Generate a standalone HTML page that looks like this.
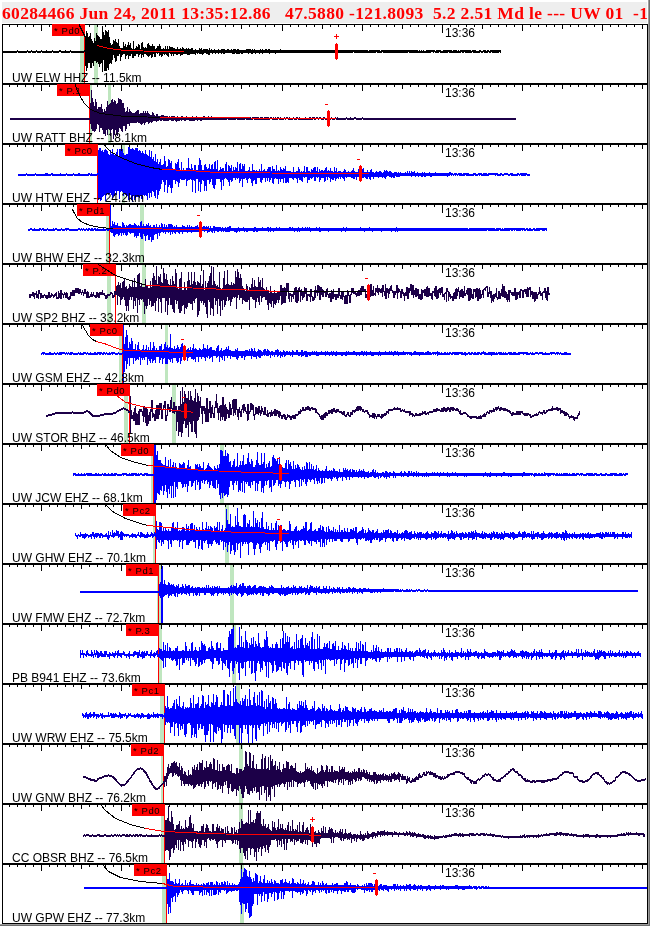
<!DOCTYPE html><html><head><meta charset="utf-8"><style>html,body{margin:0;padding:0;background:#fff;width:650px;height:926px;overflow:hidden}svg{display:block}.hd{font-family:"Liberation Serif","Times New Roman",serif;font-weight:bold;font-size:17.5px;fill:#ff0000;white-space:pre}.t{font-family:"Liberation Sans",Arial,sans-serif;font-size:12px;fill:#000}.l{font-family:"Liberation Sans",Arial,sans-serif;font-size:9.5px;letter-spacing:0.6px;fill:#000}.s{font-family:"Liberation Sans",Arial,sans-serif;font-size:9px;fill:#ff0000}</style></head><body>
<svg width="650" height="926" viewBox="0 0 650 926">
<rect x="648" y="0" width="1" height="926" fill="#9c9c9c"/><rect x="649" y="0" width="1" height="926" fill="#6e6e6e"/>
<rect x="0" y="924" width="649" height="1" fill="#9c9c9c"/><rect x="0" y="925" width="650" height="1" fill="#6e6e6e"/>
<rect x="2" y="2" width="645" height="21" fill="#eeeeee"/>
<text class="hd" x="2" y="18.6" textLength="646" lengthAdjust="spacing" xml:space="preserve">60284466 Jun 24, 2011 13:35:12.86   47.5880 -121.8093  5.2 2.51 Md le --- UW 01  -1</text>
<g><rect x="80" y="25" width="4" height="58" fill="#bfe6bf"/><rect x="94" y="25" width="4" height="58" fill="#bfe6bf"/><rect x="84" y="25" width="1" height="58" fill="#ff0000"/><path d="M3.5 51v2M4.5 51v2M5.5 51v2M6.5 51v2M7.5 51v2M8.5 51v2M9.5 51v2M10.5 51v2M11.5 51v2M12.5 51v2M13.5 51v2M14.5 51v2M15.5 51v2M16.5 51v2M17.5 50v2M18.5 51v2M19.5 51v2M20.5 51v2M21.5 51v2M22.5 51v2M23.5 51v2M24.5 51v2M25.5 51v2M26.5 51v2M27.5 50v2M28.5 51v2M29.5 51v2M30.5 51v2M31.5 50v2M32.5 51v2M33.5 51v2M34.5 51v2M35.5 51v2M36.5 50v2M37.5 51v2M38.5 51v2M39.5 51v2M40.5 51v2M41.5 50v2M42.5 51v2M43.5 51v2M44.5 51v2M45.5 51v2M46.5 50v3M47.5 51v2M48.5 51v2M49.5 51v2M50.5 51v2M51.5 51v2M52.5 50v2M53.5 51v2M54.5 51v2M55.5 51v2M56.5 51v2M57.5 51v2M58.5 51v2M59.5 50v2M60.5 50v2M61.5 51v2M62.5 51v2M63.5 51v2M64.5 51v2M65.5 50v3M66.5 51v2M67.5 51v2M68.5 51v2M69.5 51v2M70.5 50v2M71.5 51v2M72.5 51v2M73.5 51v2M74.5 51v2M75.5 51v2M76.5 51v2M77.5 51v2M78.5 51v2M79.5 51v2M80.5 51v2M81.5 51v2M82.5 51v2M83.5 51v2M84.5 50v2M85.5 37v29M86.5 31v40M87.5 33v35M88.5 37v26M89.5 36v27M90.5 33v35M91.5 39v29M92.5 41v22M93.5 43v23M94.5 38v23M95.5 41v20M96.5 33v30M97.5 35v27M98.5 36v28M99.5 37v30M100.5 39v25M101.5 39v24M102.5 26v46M103.5 32v28M104.5 35v36M105.5 30v41M106.5 31v40M107.5 32v36M108.5 30v40M109.5 37v27M110.5 43v20M111.5 45v19M112.5 44v16M113.5 40v15M114.5 41v17M115.5 39v23M116.5 42v19M117.5 43v13M118.5 39v17M119.5 46v8M120.5 48v13M121.5 48v9M122.5 48v7M123.5 42v12M124.5 46v8M125.5 44v15M126.5 47v9M127.5 45v10M128.5 42v17M129.5 45v11M130.5 43v13M131.5 48v6M132.5 49v9M133.5 41v17M134.5 49v7M135.5 48v8M136.5 46v8M137.5 47v7M138.5 44v13M139.5 45v10M140.5 49v5M141.5 43v15M142.5 42v13M143.5 47v10M144.5 48v6M145.5 47v7M146.5 48v7M147.5 44v12M148.5 43v14M149.5 45v11M150.5 46v9M151.5 46v12M152.5 44v13M153.5 46v8M154.5 46v11M155.5 49v8M156.5 48v5M157.5 46v8M158.5 46v7M159.5 44v12M160.5 46v9M161.5 49v8M162.5 49v7M163.5 48v6M164.5 49v6M165.5 46v8M166.5 49v6M167.5 46v10M168.5 49v8M169.5 46v7M170.5 47v7M171.5 47v9M172.5 47v7M173.5 48v8M174.5 48v6M175.5 49v5M176.5 49v6M177.5 47v8M178.5 49v5M179.5 49v5M180.5 48v8M181.5 49v6M182.5 47v8M183.5 48v6M184.5 49v5M185.5 49v5M186.5 48v6M187.5 49v6M188.5 48v7M189.5 49v6M190.5 49v5M191.5 48v6M192.5 48v6M193.5 50v4M194.5 50v4M195.5 49v6M196.5 50v3M197.5 50v4M198.5 50v3M199.5 48v6M200.5 49v5M201.5 48v6M202.5 50v5M203.5 49v5M204.5 49v4M205.5 49v4M206.5 49v5M207.5 49v5M208.5 50v5M209.5 48v7M210.5 50v3M211.5 49v4M212.5 50v4M213.5 50v3M214.5 49v4M215.5 50v4M216.5 50v3M217.5 50v3M218.5 49v5M219.5 50v3M220.5 50v3M221.5 49v5M222.5 49v4M223.5 49v5M224.5 49v5M225.5 50v3M226.5 50v3M227.5 49v4M228.5 49v4M229.5 50v3M230.5 50v3M231.5 49v4M232.5 50v4M233.5 49v5M234.5 49v5M235.5 49v4M236.5 50v4M237.5 49v5M238.5 49v5M239.5 50v4M240.5 50v3M241.5 50v4M242.5 50v4M243.5 50v3M244.5 50v3M245.5 50v3M246.5 49v4M247.5 49v4M248.5 49v5M249.5 49v4M250.5 49v4M251.5 50v4M252.5 49v5M253.5 50v3M254.5 49v4M255.5 50v4M256.5 50v3M257.5 50v3M258.5 50v3M259.5 50v4M260.5 49v4M261.5 50v3M262.5 49v5M263.5 50v3M264.5 50v3M265.5 49v4M266.5 49v4M267.5 50v3M268.5 49v4M269.5 49v5M270.5 50v3M271.5 50v3M272.5 50v3M273.5 50v3M274.5 50v3M275.5 50v4M276.5 50v3M277.5 50v3M278.5 50v3M279.5 50v3M280.5 49v4M281.5 50v3M282.5 50v3M283.5 50v3M284.5 50v3M285.5 50v3M286.5 50v3M287.5 50v3M288.5 50v3M289.5 50v3M290.5 50v3M291.5 50v3M292.5 50v3M293.5 50v3M294.5 50v3M295.5 50v3M296.5 50v3M297.5 50v3M298.5 50v3M299.5 50v3M300.5 50v3M301.5 50v3M302.5 50v3M303.5 50v3M304.5 50v3M305.5 50v3M306.5 50v3M307.5 50v3M308.5 50v3M309.5 50v3M310.5 50v3M311.5 50v3M312.5 50v3M313.5 50v3M314.5 50v3M315.5 50v3M316.5 50v3M317.5 50v3M318.5 50v3M319.5 50v3M320.5 50v3M321.5 50v3M322.5 50v3M323.5 50v3M324.5 50v3M325.5 50v3M326.5 50v3M327.5 50v3M328.5 50v3M329.5 50v3M330.5 50v3M331.5 50v3M332.5 50v3M333.5 50v3M334.5 50v3M335.5 50v3M336.5 50v3M337.5 50v3M338.5 50v3M339.5 50v3M340.5 50v3M341.5 50v3M342.5 50v3M343.5 50v3M344.5 50v3M345.5 50v3M346.5 50v3M347.5 50v3M348.5 50v3M349.5 50v3M350.5 50v3M351.5 50v3M352.5 50v3M353.5 50v2M354.5 50v3M355.5 50v3M356.5 50v3M357.5 50v3M358.5 50v3M359.5 50v3M360.5 50v3M361.5 50v3M362.5 50v3M363.5 50v3M364.5 50v3M365.5 50v3M366.5 50v3M367.5 50v3M368.5 51v2M369.5 50v3M370.5 50v3M371.5 50v3M372.5 50v3M373.5 50v3M374.5 50v3M375.5 50v3M376.5 50v2M377.5 50v3M378.5 50v3M379.5 50v3M380.5 51v2M381.5 50v3M382.5 50v2M383.5 50v3M384.5 50v3M385.5 50v3M386.5 50v3M387.5 50v3M388.5 50v3M389.5 50v3M390.5 50v3M391.5 50v3M392.5 50v3M393.5 50v3M394.5 50v3M395.5 50v3M396.5 50v3M397.5 50v3M398.5 50v3M399.5 50v3M400.5 50v3M401.5 50v3M402.5 50v3M403.5 50v3M404.5 50v3M405.5 50v3M406.5 50v3M407.5 50v3M408.5 50v2M409.5 50v3M410.5 50v3M411.5 50v3M412.5 50v3M413.5 50v3M414.5 50v3M415.5 50v3M416.5 50v3M417.5 50v3M418.5 51v2M419.5 50v3M420.5 51v2M421.5 50v3M422.5 51v2M423.5 50v3M424.5 51v2M425.5 51v2M426.5 50v3M427.5 50v3M428.5 50v3M429.5 50v3M430.5 50v3M431.5 50v2M432.5 50v2M433.5 50v3M434.5 50v2M435.5 51v2M436.5 50v3M437.5 50v3M438.5 50v3M439.5 50v2M440.5 50v3M441.5 51v2M442.5 51v2M443.5 50v3M444.5 50v3M445.5 50v3M446.5 50v3M447.5 50v3M448.5 50v2M449.5 50v3M450.5 50v3M451.5 50v3M452.5 51v2M453.5 50v3M454.5 50v3M455.5 50v3M456.5 50v3M457.5 51v2M458.5 50v3M459.5 51v2M460.5 50v3M461.5 50v2M462.5 50v3M463.5 50v3M464.5 50v2M465.5 50v3M466.5 50v3M467.5 50v3M468.5 50v3M469.5 50v3M470.5 50v3M471.5 51v2M472.5 50v2M473.5 50v3M474.5 50v3M475.5 50v3M476.5 51v2M477.5 51v2M478.5 51v2M479.5 50v3M480.5 50v2M481.5 51v2M482.5 51v2M483.5 50v2M484.5 50v3M485.5 50v3M486.5 51v2M487.5 50v3M488.5 50v2M489.5 51v2M490.5 50v3M491.5 50v2M492.5 50v3M493.5 50v3M494.5 50v3M495.5 50v3M496.5 50v3M497.5 50v3M498.5 50v3M499.5 50v2M500.5 50v3" stroke="#000000" stroke-width="1" fill="none"/><rect x="2.5" y="24.5" width="645" height="59" fill="none" stroke="#000" stroke-width="1"/><path d="M9.5 25v2M17.5 25v2M25.5 25v2M33.5 25v2M41.5 25v6M49.5 25v2M57.5 25v2M65.5 25v2M73.5 25v2M81.5 25v4M89.5 25v2M97.5 25v2M105.5 25v2M113.5 25v2M121.5 25v6M129.5 25v2M137.5 25v2M145.5 25v2M153.5 25v2M161.5 25v4M169.5 25v2M177.5 25v2M185.5 25v2M193.5 25v2M201.5 25v6M209.5 25v2M217.5 25v2M225.5 25v2M233.5 25v2M241.5 25v4M249.5 25v2M257.5 25v2M265.5 25v2M274.5 25v2M282.5 25v6M290.5 25v2M298.5 25v2M306.5 25v2M314.5 25v2M322.5 25v4M330.5 25v2M338.5 25v2M346.5 25v2M354.5 25v2M362.5 25v6M370.5 25v2M378.5 25v2M386.5 25v2M394.5 25v2M402.5 25v4M410.5 25v2M418.5 25v2M426.5 25v2M434.5 25v2M442.5 25v8M450.5 25v2M458.5 25v2M466.5 25v2M474.5 25v2M482.5 25v4M490.5 25v2M498.5 25v2M506.5 25v2M514.5 25v2M522.5 25v6M530.5 25v2M538.5 25v2M546.5 25v2M554.5 25v2M562.5 25v4M570.5 25v2M578.5 25v2M586.5 25v2M594.5 25v2M602.5 25v6M610.5 25v2M618.5 25v2M626.5 25v2M634.5 25v2M642.5 25v4" stroke="#000" stroke-width="1"/><rect x="52" y="24" width="33" height="12" fill="#ff0000"/><text class="l" x="54" y="34">* Pd0</text><polyline points="79.0,24.5 85.0,36.5 91.5,42.5 97.5,45.5" stroke="#000000" stroke-width="1" fill="none" shape-rendering="crispEdges"/><polyline points="97.5,45.5 108.5,48.5 125.5,50.5 160.5,51.5 183.5,52.0" stroke="#ff0000" stroke-width="1" fill="none" shape-rendering="crispEdges"/><path d="M335 44h3v15h-3zM336 43h1v1h-1zM336 59h1v1h-1z" fill="#ff0000" shape-rendering="crispEdges"/><path d="M334 36h5v1h-5zM336 34h1v5h-1z" fill="#ff0000" shape-rendering="crispEdges"/><text class="t" x="445" y="37">13:36</text><text class="t" x="12" y="82">UW ELW HHZ -- 11.5km</text></g>
<g><rect x="89" y="85" width="3" height="58" fill="#bfe6bf"/><rect x="108" y="85" width="3" height="58" fill="#bfe6bf"/><rect x="89" y="85" width="1" height="58" fill="#ff0000"/><path d="M10.5 118v2M11.5 118v2M12.5 118v2M13.5 118v2M14.5 118v2M15.5 118v2M16.5 118v2M17.5 118v2M18.5 118v2M19.5 118v2M20.5 118v2M21.5 118v2M22.5 118v2M23.5 118v2M24.5 118v2M25.5 118v2M26.5 118v2M27.5 118v2M28.5 118v2M29.5 118v2M30.5 118v2M31.5 118v2M32.5 118v2M33.5 118v2M34.5 118v2M35.5 118v2M36.5 118v2M37.5 118v2M38.5 118v2M39.5 118v2M40.5 118v2M41.5 118v2M42.5 118v2M43.5 118v2M44.5 118v2M45.5 118v2M46.5 118v2M47.5 118v2M48.5 118v2M49.5 118v2M50.5 118v2M51.5 118v2M52.5 118v2M53.5 118v2M54.5 118v2M55.5 118v2M56.5 118v2M57.5 118v2M58.5 118v2M59.5 118v2M60.5 118v2M61.5 118v2M62.5 118v2M63.5 118v2M64.5 118v2M65.5 118v2M66.5 118v2M67.5 118v2M68.5 118v2M69.5 118v2M70.5 118v2M71.5 118v2M72.5 118v2M73.5 118v2M74.5 118v2M75.5 118v2M76.5 118v2M77.5 118v2M78.5 118v2M79.5 118v2M80.5 118v2M81.5 118v2M82.5 118v2M83.5 118v2M84.5 118v2M85.5 118v2M86.5 118v2M87.5 118v2M88.5 118v2M89.5 118v2M90.5 103v21M91.5 90v39M92.5 98v33M93.5 102v29M94.5 106v26M95.5 99v32M96.5 102v27M97.5 109v15M98.5 107v18M99.5 107v25M100.5 107v21M101.5 104v24M102.5 109v21M103.5 112v22M104.5 109v25M105.5 111v25M106.5 107v23M107.5 101v34M108.5 105v24M109.5 104v26M110.5 103v33M111.5 100v30M112.5 99v30M113.5 102v37M114.5 100v35M115.5 101v29M116.5 104v31M117.5 103v33M118.5 98v34M119.5 99v29M120.5 99v30M121.5 100v31M122.5 103v29M123.5 103v23M124.5 108v18M125.5 112v19M126.5 111v18M127.5 107v17M128.5 112v12M129.5 109v17M130.5 111v12M131.5 112v11M132.5 113v10M133.5 113v10M134.5 113v10M135.5 112v11M136.5 111v12M137.5 110v12M138.5 110v13M139.5 114v9M140.5 113v11M141.5 113v12M142.5 113v11M143.5 111v12M144.5 113v12M145.5 111v12M146.5 113v9M147.5 111v11M148.5 113v11M149.5 114v9M150.5 115v7M151.5 115v8M152.5 112v10M153.5 113v8M154.5 115v6M155.5 116v5M156.5 114v8M157.5 114v7M158.5 116v5M159.5 116v4M160.5 116v5M161.5 115v6M162.5 115v5M163.5 115v6M164.5 116v5M165.5 116v5M166.5 116v5M167.5 116v5M168.5 117v4M169.5 116v4M170.5 117v3M171.5 116v5M172.5 116v5M173.5 116v5M174.5 116v4M175.5 117v4M176.5 117v5M177.5 116v5M178.5 117v4M179.5 117v4M180.5 117v3M181.5 116v5M182.5 116v4M183.5 117v3M184.5 117v4M185.5 117v4M186.5 116v4M187.5 117v3M188.5 117v3M189.5 117v4M190.5 117v4M191.5 117v4M192.5 116v5M193.5 117v4M194.5 117v4M195.5 117v3M196.5 116v4M197.5 117v4M198.5 117v3M199.5 117v3M200.5 117v4M201.5 117v4M202.5 117v3M203.5 116v4M204.5 116v4M205.5 117v3M206.5 117v3M207.5 117v3M208.5 116v4M209.5 117v3M210.5 117v3M211.5 116v4M212.5 117v3M213.5 117v3M214.5 117v3M215.5 117v3M216.5 117v3M217.5 117v3M218.5 117v3M219.5 117v3M220.5 117v3M221.5 117v3M222.5 117v3M223.5 117v3M224.5 117v3M225.5 117v3M226.5 117v3M227.5 117v2M228.5 117v3M229.5 118v2M230.5 117v3M231.5 118v2M232.5 117v3M233.5 117v3M234.5 117v3M235.5 117v3M236.5 117v2M237.5 118v2M238.5 117v3M239.5 118v2M240.5 117v3M241.5 117v3M242.5 117v3M243.5 117v3M244.5 117v3M245.5 117v2M246.5 118v2M247.5 117v3M248.5 117v3M249.5 118v2M250.5 117v3M251.5 118v2M252.5 117v3M253.5 117v2M254.5 117v3M255.5 117v3M256.5 117v3M257.5 117v3M258.5 117v3M259.5 118v2M260.5 117v3M261.5 117v3M262.5 117v3M263.5 118v2M264.5 117v3M265.5 117v3M266.5 117v3M267.5 117v3M268.5 117v3M269.5 118v2M270.5 117v2M271.5 117v2M272.5 118v2M273.5 117v3M274.5 118v2M275.5 117v3M276.5 118v2M277.5 117v3M278.5 117v2M279.5 118v2M280.5 117v3M281.5 118v2M282.5 118v2M283.5 118v2M284.5 117v2M285.5 118v2M286.5 117v2M287.5 117v2M288.5 118v2M289.5 117v3M290.5 118v2M291.5 118v2M292.5 118v2M293.5 117v2M294.5 118v2M295.5 118v2M296.5 117v3M297.5 117v2M298.5 118v2M299.5 117v3M300.5 118v2M301.5 118v2M302.5 118v2M303.5 118v2M304.5 118v2M305.5 117v3M306.5 118v2M307.5 118v2M308.5 118v2M309.5 117v3M310.5 117v3M311.5 118v2M312.5 117v3M313.5 117v2M314.5 117v3M315.5 118v2M316.5 117v2M317.5 117v2M318.5 118v2M319.5 117v2M320.5 117v2M321.5 118v2M322.5 118v2M323.5 117v3M324.5 117v2M325.5 118v2M326.5 118v2M327.5 118v2M328.5 118v2M329.5 118v2M330.5 118v2M331.5 117v2M332.5 118v2M333.5 118v2M334.5 118v2M335.5 117v2M336.5 118v2M337.5 117v3M338.5 118v2M339.5 118v2M340.5 118v2M341.5 118v2M342.5 118v2M343.5 118v2M344.5 118v2M345.5 118v2M346.5 117v2M347.5 118v2M348.5 118v2M349.5 118v2M350.5 117v3M351.5 118v2M352.5 118v2M353.5 118v2M354.5 117v2M355.5 117v2M356.5 118v2M357.5 118v2M358.5 118v2M359.5 118v2M360.5 118v2M361.5 118v2M362.5 117v2M363.5 118v2M364.5 118v2M365.5 118v2M366.5 118v2M367.5 118v2M368.5 118v2M369.5 118v2M370.5 118v2M371.5 118v2M372.5 118v2M373.5 118v2M374.5 118v2M375.5 118v2M376.5 118v2M377.5 118v2M378.5 118v2M379.5 118v2M380.5 118v2M381.5 118v2M382.5 118v2M383.5 118v2M384.5 118v2M385.5 118v2M386.5 118v2M387.5 118v2M388.5 118v2M389.5 118v2M390.5 118v2M391.5 118v2M392.5 118v2M393.5 118v2M394.5 118v2M395.5 118v2M396.5 118v2M397.5 118v2M398.5 118v2M399.5 118v2M400.5 118v2M401.5 118v2M402.5 118v2M403.5 118v2M404.5 118v2M405.5 118v2M406.5 118v2M407.5 118v2M408.5 118v2M409.5 118v2M410.5 118v2M411.5 118v2M412.5 118v2M413.5 118v2M414.5 118v2M415.5 118v2M416.5 118v2M417.5 118v2M418.5 118v2M419.5 118v2M420.5 118v2M421.5 118v2M422.5 118v2M423.5 118v2M424.5 118v2M425.5 118v2M426.5 118v2M427.5 118v2M428.5 118v2M429.5 118v2M430.5 118v2M431.5 118v2M432.5 118v2M433.5 118v2M434.5 118v2M435.5 118v2M436.5 118v2M437.5 118v2M438.5 118v2M439.5 118v2M440.5 118v2M441.5 118v2M442.5 118v2M443.5 118v2M444.5 118v2M445.5 118v2M446.5 118v2M447.5 118v2M448.5 118v2M449.5 118v2M450.5 118v2M451.5 118v2M452.5 118v2M453.5 118v2M454.5 118v2M455.5 118v2M456.5 118v2M457.5 118v2M458.5 118v2M459.5 118v2M460.5 118v2M461.5 118v2M462.5 118v2M463.5 118v2M464.5 118v2M465.5 118v2M466.5 118v2M467.5 118v2M468.5 118v2M469.5 118v2M470.5 118v2M471.5 118v2M472.5 118v2M473.5 118v2M474.5 118v2M475.5 118v2M476.5 118v2M477.5 118v2M478.5 118v2M479.5 118v2M480.5 118v2M481.5 118v2M482.5 118v2M483.5 118v2M484.5 118v2M485.5 118v2M486.5 118v2M487.5 118v2M488.5 118v2M489.5 118v2M490.5 118v2M491.5 118v2M492.5 118v2M493.5 118v2M494.5 118v2M495.5 118v2M496.5 118v2M497.5 118v2M498.5 118v2M499.5 118v2M500.5 118v2M501.5 118v2M502.5 118v2M503.5 118v2M504.5 118v2M505.5 118v2M506.5 118v2M507.5 118v2M508.5 118v2M509.5 118v2M510.5 118v2M511.5 118v2M512.5 118v2M513.5 118v2M514.5 118v2M515.5 118v2" stroke="#1c0048" stroke-width="1" fill="none"/><rect x="2.5" y="84.5" width="645" height="59" fill="none" stroke="#000" stroke-width="1"/><path d="M9.5 85v2M17.5 85v2M25.5 85v2M33.5 85v2M41.5 85v6M49.5 85v2M57.5 85v2M65.5 85v2M73.5 85v2M81.5 85v4M89.5 85v2M97.5 85v2M105.5 85v2M113.5 85v2M121.5 85v6M129.5 85v2M137.5 85v2M145.5 85v2M153.5 85v2M161.5 85v4M169.5 85v2M177.5 85v2M185.5 85v2M193.5 85v2M201.5 85v6M209.5 85v2M217.5 85v2M225.5 85v2M233.5 85v2M241.5 85v4M249.5 85v2M257.5 85v2M265.5 85v2M274.5 85v2M282.5 85v6M290.5 85v2M298.5 85v2M306.5 85v2M314.5 85v2M322.5 85v4M330.5 85v2M338.5 85v2M346.5 85v2M354.5 85v2M362.5 85v6M370.5 85v2M378.5 85v2M386.5 85v2M394.5 85v2M402.5 85v4M410.5 85v2M418.5 85v2M426.5 85v2M434.5 85v2M442.5 85v8M450.5 85v2M458.5 85v2M466.5 85v2M474.5 85v2M482.5 85v4M490.5 85v2M498.5 85v2M506.5 85v2M514.5 85v2M522.5 85v6M530.5 85v2M538.5 85v2M546.5 85v2M554.5 85v2M562.5 85v4M570.5 85v2M578.5 85v2M586.5 85v2M594.5 85v2M602.5 85v6M610.5 85v2M618.5 85v2M626.5 85v2M634.5 85v2M642.5 85v4" stroke="#000" stroke-width="1"/><rect x="57" y="84" width="33" height="12" fill="#ff0000"/><text class="l" x="59" y="94">* P.1</text><polyline points="75.0,84.5 78.5,93.5 84.5,103.5 90.5,109.5 100.5,113.5 120.5,116.0 160.5,117.5" stroke="#000000" stroke-width="1" fill="none" shape-rendering="crispEdges"/><polyline points="160.5,117.5 336.5,118.5" stroke="#ff0000" stroke-width="1" fill="none" shape-rendering="crispEdges"/><path d="M327 111h3v15h-3zM328 110h1v1h-1zM328 126h1v1h-1z" fill="#ff0000" shape-rendering="crispEdges"/><path d="M325 104h3v1h-3z" fill="#ff0000" shape-rendering="crispEdges"/><text class="t" x="445" y="97">13:36</text><text class="t" x="12" y="142">UW RATT BHZ -- 18.1km</text></g>
<g><rect x="122" y="145" width="3" height="58" fill="#bfe6bf"/><rect x="97" y="145" width="1" height="58" fill="#ff0000"/><path d="M18.5 174v2M19.5 174v2M20.5 174v2M21.5 174v2M22.5 174v2M23.5 174v2M24.5 174v2M25.5 174v2M26.5 173v2M27.5 174v2M28.5 174v2M29.5 174v2M30.5 174v2M31.5 174v2M32.5 174v2M33.5 174v2M34.5 174v2M35.5 173v2M36.5 174v2M37.5 174v2M38.5 174v2M39.5 174v2M40.5 174v2M41.5 174v2M42.5 174v2M43.5 174v2M44.5 174v2M45.5 173v3M46.5 173v3M47.5 173v3M48.5 174v2M49.5 174v2M50.5 174v2M51.5 173v2M52.5 173v3M53.5 174v2M54.5 174v2M55.5 174v2M56.5 174v2M57.5 174v2M58.5 174v2M59.5 174v2M60.5 173v3M61.5 174v2M62.5 174v2M63.5 174v2M64.5 174v2M65.5 174v2M66.5 173v2M67.5 174v2M68.5 174v2M69.5 174v2M70.5 174v2M71.5 174v2M72.5 174v2M73.5 173v2M74.5 174v2M75.5 174v2M76.5 174v2M77.5 174v2M78.5 173v3M79.5 173v3M80.5 174v2M81.5 174v2M82.5 174v2M83.5 174v2M84.5 174v2M85.5 174v2M86.5 174v2M87.5 174v2M88.5 173v3M89.5 173v2M90.5 174v2M91.5 173v3M92.5 174v2M93.5 174v2M94.5 174v2M95.5 174v2M96.5 174v2M97.5 173v2M98.5 150v50M99.5 148v50M100.5 148v53M101.5 151v49M102.5 150v47M103.5 152v44M104.5 150v45M105.5 149v52M106.5 150v45M107.5 151v43M108.5 154v41M109.5 155v39M110.5 150v43M111.5 154v41M112.5 149v49M113.5 154v42M114.5 155v41M115.5 155v36M116.5 152v43M117.5 149v42M118.5 156v35M119.5 149v50M120.5 149v43M121.5 151v40M122.5 149v43M123.5 153v43M124.5 155v38M125.5 155v40M126.5 154v41M127.5 154v42M128.5 147v53M129.5 146v49M130.5 149v46M131.5 149v51M132.5 148v54M133.5 149v47M134.5 150v50M135.5 148v50M136.5 148v49M137.5 148v49M138.5 151v46M139.5 150v48M140.5 151v45M141.5 153v46M142.5 151v48M143.5 153v42M144.5 154v42M145.5 150v45M146.5 154v42M147.5 155v45M148.5 156v37M149.5 150v48M150.5 157v36M151.5 151v46M152.5 159v32M153.5 157v35M154.5 161v35M155.5 154v44M156.5 162v28M157.5 159v40M158.5 164v31M159.5 162v29M160.5 159v30M161.5 165v19M162.5 165v15M163.5 164v18M164.5 156v36M165.5 161v24M166.5 167v13M167.5 166v27M168.5 159v28M169.5 160v25M170.5 163v25M171.5 161v32M172.5 168v20M173.5 170v10M174.5 170v10M175.5 163v21M176.5 164v17M177.5 162v20M178.5 159v28M179.5 168v15M180.5 170v9M181.5 162v18M182.5 170v10M183.5 168v12M184.5 170v10M185.5 170v9M186.5 168v18M187.5 168v13M188.5 158v22M189.5 168v12M190.5 169v10M191.5 164v16M192.5 168v24M193.5 170v10M194.5 165v16M195.5 165v28M196.5 170v9M197.5 170v9M198.5 165v26M199.5 158v24M200.5 160v32M201.5 165v19M202.5 170v10M203.5 170v11M204.5 165v26M205.5 164v22M206.5 167v24M207.5 169v11M208.5 168v12M209.5 164v20M210.5 169v13M211.5 165v14M212.5 164v21M213.5 169v19M214.5 162v27M215.5 161v24M216.5 169v10M217.5 160v19M218.5 171v8M219.5 170v9M220.5 167v15M221.5 169v21M222.5 168v12M223.5 168v18M224.5 171v8M225.5 164v14M226.5 162v17M227.5 171v9M228.5 165v17M229.5 166v20M230.5 168v12M231.5 165v17M232.5 171v10M233.5 167v11M234.5 170v8M235.5 167v13M236.5 168v10M237.5 162v17M238.5 171v7M239.5 164v19M240.5 163v18M241.5 169v10M242.5 164v23M243.5 166v13M244.5 164v15M245.5 171v7M246.5 171v9M247.5 171v12M248.5 170v9M249.5 167v11M250.5 171v8M251.5 171v12M252.5 164v22M253.5 170v11M254.5 170v10M255.5 171v13M256.5 170v14M257.5 171v7M258.5 171v7M259.5 169v9M260.5 171v11M261.5 164v19M262.5 171v9M263.5 170v8M264.5 169v9M265.5 171v11M266.5 171v7M267.5 169v12M268.5 167v11M269.5 167v15M270.5 167v13M271.5 171v7M272.5 166v17M273.5 169v15M274.5 169v10M275.5 171v7M276.5 165v14M277.5 171v8M278.5 170v14M279.5 171v8M280.5 167v15M281.5 169v10M282.5 170v9M283.5 168v15M284.5 169v9M285.5 166v17M286.5 171v12M287.5 171v11M288.5 171v12M289.5 171v7M290.5 171v7M291.5 172v6M292.5 172v7M293.5 167v13M294.5 172v6M295.5 172v6M296.5 171v8M297.5 171v12M298.5 167v11M299.5 169v11M300.5 172v8M301.5 171v10M302.5 172v10M303.5 171v6M304.5 166v12M305.5 172v5M306.5 167v10M307.5 167v16M308.5 171v9M309.5 171v9M310.5 172v6M311.5 169v10M312.5 170v8M313.5 168v9M314.5 167v14M315.5 167v14M316.5 171v6M317.5 167v11M318.5 172v5M319.5 169v13M320.5 171v9M321.5 170v8M322.5 170v8M323.5 171v7M324.5 170v12M325.5 168v13M326.5 167v10M327.5 171v9M328.5 170v7M329.5 171v7M330.5 168v14M331.5 171v8M332.5 171v9M333.5 172v8M334.5 167v11M335.5 171v10M336.5 168v11M337.5 172v6M338.5 171v8M339.5 171v6M340.5 171v8M341.5 172v5M342.5 172v6M343.5 171v8M344.5 169v12M345.5 170v7M346.5 172v6M347.5 172v5M348.5 171v6M349.5 172v5M350.5 172v5M351.5 171v7M352.5 170v8M353.5 168v11M354.5 171v8M355.5 172v5M356.5 172v8M357.5 172v5M358.5 169v8M359.5 172v6M360.5 169v9M361.5 172v5M362.5 169v9M363.5 168v10M364.5 172v5M365.5 172v6M366.5 172v7M367.5 170v9M368.5 172v5M369.5 172v7M370.5 170v10M371.5 169v8M372.5 172v5M373.5 172v7M374.5 173v4M375.5 172v5M376.5 171v6M377.5 172v5M378.5 172v6M379.5 171v6M380.5 171v6M381.5 172v5M382.5 173v5M383.5 172v5M384.5 170v8M385.5 171v8M386.5 170v7M387.5 171v5M388.5 172v4M389.5 171v6M390.5 171v6M391.5 172v6M392.5 173v4M393.5 173v5M394.5 172v6M395.5 172v4M396.5 172v5M397.5 173v4M398.5 172v5M399.5 173v4M400.5 172v4M401.5 173v3M402.5 173v3M403.5 173v3M404.5 173v3M405.5 172v4M406.5 173v3M407.5 171v5M408.5 173v3M409.5 171v5M410.5 173v3M411.5 171v6M412.5 172v4M413.5 172v4M414.5 171v5M415.5 173v4M416.5 173v3M417.5 172v4M418.5 173v4M419.5 173v3M420.5 173v3M421.5 173v4M422.5 172v5M423.5 173v3M424.5 172v5M425.5 173v4M426.5 173v3M427.5 173v3M428.5 173v3M429.5 172v4M430.5 173v4M431.5 173v4M432.5 173v3M433.5 173v3M434.5 173v3M435.5 172v4M436.5 173v3M437.5 173v3M438.5 173v3M439.5 173v3M440.5 173v3M441.5 173v3M442.5 173v3M443.5 173v3M444.5 173v3M445.5 173v3M446.5 173v3M447.5 173v4M448.5 173v3M449.5 172v4M450.5 172v3M451.5 173v3M452.5 173v2M453.5 174v2M454.5 173v2M455.5 173v3M456.5 173v2M457.5 174v2M458.5 173v2M459.5 173v3M460.5 173v3M461.5 173v3M462.5 174v2M463.5 173v3M464.5 173v3M465.5 173v2M466.5 173v3M467.5 173v3M468.5 173v3M469.5 174v2M470.5 174v2M471.5 174v2M472.5 174v2M473.5 173v3M474.5 173v2M475.5 173v3M476.5 174v2M477.5 174v2M478.5 173v2M479.5 173v3M480.5 173v2M481.5 173v3M482.5 174v2M483.5 173v3M484.5 173v3M485.5 173v3M486.5 173v3M487.5 174v2M488.5 173v3M489.5 173v2M490.5 173v2M491.5 173v2M492.5 173v2M493.5 173v2M494.5 173v2M495.5 173v3M496.5 173v2M497.5 173v3M498.5 174v2M499.5 174v2M500.5 173v3M501.5 173v2M502.5 174v2M503.5 174v2M504.5 173v2M505.5 173v2M506.5 173v2M507.5 173v2M508.5 174v2M509.5 174v2M510.5 173v2M511.5 173v3M512.5 173v3M513.5 174v2M514.5 174v2M515.5 174v2M516.5 174v2M517.5 173v3M518.5 173v2M519.5 174v2M520.5 173v2M521.5 173v3M522.5 173v3M523.5 173v3M524.5 173v3M525.5 173v3M526.5 173v2M527.5 174v2M528.5 174v2M529.5 174v2" stroke="#0000ff" stroke-width="1" fill="none"/><rect x="2.5" y="144.5" width="645" height="59" fill="none" stroke="#000" stroke-width="1"/><path d="M9.5 145v2M17.5 145v2M25.5 145v2M33.5 145v2M41.5 145v6M49.5 145v2M57.5 145v2M65.5 145v2M73.5 145v2M81.5 145v4M89.5 145v2M97.5 145v2M105.5 145v2M113.5 145v2M121.5 145v6M129.5 145v2M137.5 145v2M145.5 145v2M153.5 145v2M161.5 145v4M169.5 145v2M177.5 145v2M185.5 145v2M193.5 145v2M201.5 145v6M209.5 145v2M217.5 145v2M225.5 145v2M233.5 145v2M241.5 145v4M249.5 145v2M257.5 145v2M265.5 145v2M274.5 145v2M282.5 145v6M290.5 145v2M298.5 145v2M306.5 145v2M314.5 145v2M322.5 145v4M330.5 145v2M338.5 145v2M346.5 145v2M354.5 145v2M362.5 145v6M370.5 145v2M378.5 145v2M386.5 145v2M394.5 145v2M402.5 145v4M410.5 145v2M418.5 145v2M426.5 145v2M434.5 145v2M442.5 145v8M450.5 145v2M458.5 145v2M466.5 145v2M474.5 145v2M482.5 145v4M490.5 145v2M498.5 145v2M506.5 145v2M514.5 145v2M522.5 145v6M530.5 145v2M538.5 145v2M546.5 145v2M554.5 145v2M562.5 145v4M570.5 145v2M578.5 145v2M586.5 145v2M594.5 145v2M602.5 145v6M610.5 145v2M618.5 145v2M626.5 145v2M634.5 145v2M642.5 145v4" stroke="#000" stroke-width="1"/><rect x="65" y="144" width="33" height="12" fill="#ff0000"/><text class="l" x="67" y="154">* Pc0</text><polyline points="103.5,144.5 110.5,151.5 120.5,157.5 135.5,163.5 150.5,167.5 162.5,169.5" stroke="#000000" stroke-width="1" fill="none" shape-rendering="crispEdges"/><polyline points="162.5,169.5 188.5,170.5 212.5,172.2 270.5,173.0 368.5,174.0" stroke="#ff0000" stroke-width="1" fill="none" shape-rendering="crispEdges"/><path d="M359 166h3v15h-3zM360 165h1v1h-1zM360 181h1v1h-1z" fill="#ff0000" shape-rendering="crispEdges"/><path d="M357 159h3v1h-3z" fill="#ff0000" shape-rendering="crispEdges"/><text class="t" x="445" y="157">13:36</text><text class="t" x="12" y="202">UW HTW EHZ -- 24.2km</text></g>
<g><rect x="106" y="205" width="3" height="58" fill="#bfe6bf"/><rect x="140" y="205" width="4" height="58" fill="#bfe6bf"/><rect x="109" y="205" width="1" height="58" fill="#ff0000"/><path d="M28.5 229v2M29.5 229v2M30.5 228v2M31.5 228v2M32.5 229v2M33.5 229v2M34.5 228v3M35.5 229v2M36.5 229v2M37.5 229v2M38.5 229v2M39.5 228v3M40.5 228v2M41.5 229v2M42.5 228v2M43.5 228v3M44.5 229v2M45.5 229v2M46.5 229v2M47.5 228v2M48.5 229v2M49.5 229v2M50.5 229v2M51.5 229v2M52.5 229v2M53.5 228v3M54.5 229v2M55.5 228v2M56.5 228v2M57.5 229v2M58.5 229v2M59.5 229v2M60.5 229v2M61.5 228v2M62.5 229v2M63.5 229v2M64.5 229v2M65.5 228v2M66.5 228v3M67.5 228v2M68.5 228v2M69.5 229v2M70.5 229v2M71.5 229v2M72.5 229v2M73.5 229v2M74.5 229v2M75.5 229v2M76.5 229v2M77.5 229v2M78.5 228v2M79.5 228v2M80.5 229v2M81.5 228v2M82.5 229v2M83.5 228v2M84.5 229v2M85.5 229v2M86.5 228v2M87.5 229v2M88.5 228v3M89.5 228v2M90.5 229v2M91.5 228v3M92.5 228v3M93.5 229v2M94.5 228v2M95.5 228v3M96.5 229v2M97.5 228v3M98.5 229v2M99.5 229v2M100.5 229v2M101.5 229v2M102.5 229v2M103.5 228v3M104.5 229v2M105.5 229v2M106.5 228v2M107.5 229v2M108.5 228v3M109.5 228v2M110.5 205v27M111.5 226v7M112.5 221v12M113.5 224v12M114.5 222v15M115.5 225v10M116.5 225v9M117.5 223v11M118.5 226v10M119.5 226v9M120.5 226v7M121.5 227v9M122.5 222v11M123.5 223v12M124.5 225v8M125.5 227v8M126.5 225v11M127.5 226v9M128.5 225v7M129.5 224v9M130.5 224v10M131.5 225v8M132.5 225v8M133.5 225v8M134.5 223v14M135.5 224v12M136.5 225v13M137.5 226v10M138.5 225v11M139.5 226v7M140.5 222v15M141.5 221v18M142.5 226v13M143.5 224v10M144.5 226v10M145.5 226v15M146.5 224v12M147.5 225v10M148.5 223v17M149.5 226v14M150.5 225v12M151.5 227v15M152.5 227v13M153.5 225v15M154.5 225v10M155.5 227v7M156.5 224v10M157.5 227v12M158.5 227v6M159.5 225v11M160.5 227v6M161.5 223v9M162.5 224v8M163.5 227v6M164.5 224v8M165.5 227v7M166.5 225v7M167.5 227v5M168.5 224v9M169.5 224v8M170.5 224v11M171.5 224v8M172.5 225v9M173.5 227v5M174.5 226v7M175.5 227v7M176.5 225v7M177.5 227v5M178.5 227v6M179.5 227v7M180.5 227v5M181.5 227v5M182.5 225v9M183.5 226v6M184.5 226v6M185.5 227v5M186.5 227v5M187.5 225v8M188.5 227v5M189.5 225v7M190.5 227v5M191.5 226v7M192.5 227v5M193.5 227v5M194.5 227v5M195.5 226v6M196.5 226v6M197.5 225v7M198.5 227v5M199.5 226v6M200.5 228v5M201.5 225v6M202.5 227v4M203.5 226v5M204.5 226v6M205.5 227v4M206.5 226v5M207.5 227v6M208.5 226v6M209.5 228v4M210.5 226v5M211.5 228v4M212.5 228v5M213.5 226v5M214.5 226v7M215.5 227v4M216.5 227v4M217.5 227v5M218.5 227v5M219.5 227v4M220.5 227v4M221.5 228v4M222.5 227v4M223.5 228v4M224.5 228v3M225.5 227v5M226.5 228v4M227.5 227v5M228.5 227v5M229.5 226v6M230.5 226v5M231.5 228v3M232.5 228v3M233.5 228v3M234.5 228v4M235.5 228v4M236.5 228v5M237.5 228v4M238.5 227v4M239.5 228v4M240.5 228v3M241.5 228v3M242.5 228v3M243.5 227v4M244.5 228v4M245.5 228v3M246.5 228v4M247.5 228v4M248.5 228v3M249.5 228v3M250.5 228v3M251.5 228v3M252.5 228v3M253.5 228v4M254.5 227v5M255.5 227v4M256.5 228v4M257.5 228v4M258.5 228v3M259.5 228v3M260.5 228v3M261.5 228v3M262.5 227v4M263.5 228v3M264.5 228v3M265.5 228v3M266.5 228v3M267.5 227v4M268.5 227v5M269.5 228v3M270.5 227v5M271.5 228v3M272.5 228v3M273.5 228v4M274.5 228v3M275.5 228v3M276.5 227v4M277.5 228v3M278.5 228v3M279.5 227v4M280.5 228v3M281.5 228v3M282.5 228v3M283.5 228v3M284.5 228v3M285.5 228v3M286.5 228v3M287.5 228v3M288.5 228v3M289.5 227v4M290.5 227v4M291.5 228v3M292.5 227v4M293.5 228v3M294.5 228v4M295.5 228v3M296.5 228v3M297.5 228v4M298.5 227v4M299.5 228v4M300.5 228v3M301.5 228v3M302.5 227v4M303.5 228v3M304.5 228v3M305.5 227v4M306.5 228v3M307.5 227v4M308.5 228v3M309.5 227v4M310.5 228v4M311.5 228v3M312.5 228v3M313.5 228v3M314.5 228v3M315.5 228v3M316.5 227v4M317.5 228v3M318.5 228v3M319.5 227v5M320.5 228v4M321.5 228v3M322.5 228v3M323.5 228v3M324.5 228v3M325.5 228v3M326.5 228v3M327.5 228v3M328.5 228v4M329.5 228v3M330.5 228v3M331.5 228v3M332.5 228v3M333.5 228v3M334.5 228v3M335.5 228v3M336.5 228v3M337.5 228v3M338.5 228v3M339.5 228v3M340.5 228v3M341.5 228v4M342.5 228v3M343.5 227v4M344.5 228v3M345.5 228v4M346.5 227v4M347.5 228v3M348.5 228v3M349.5 228v3M350.5 228v3M351.5 228v3M352.5 228v3M353.5 228v3M354.5 228v3M355.5 228v3M356.5 228v3M357.5 228v3M358.5 228v3M359.5 228v3M360.5 227v4M361.5 228v3M362.5 228v3M363.5 228v3M364.5 228v4M365.5 228v3M366.5 228v3M367.5 228v3M368.5 228v3M369.5 227v4M370.5 228v3M371.5 228v3M372.5 228v4M373.5 228v3M374.5 228v3M375.5 228v3M376.5 228v3M377.5 228v3M378.5 228v3M379.5 228v3M380.5 228v3M381.5 228v4M382.5 228v3M383.5 228v3M384.5 228v3M385.5 228v3M386.5 228v3M387.5 228v3M388.5 228v3M389.5 228v3M390.5 228v3M391.5 228v4M392.5 228v3M393.5 228v3M394.5 228v3M395.5 228v4M396.5 227v4M397.5 228v4M398.5 228v3M399.5 228v3M400.5 228v3M401.5 228v3M402.5 228v3M403.5 228v3M404.5 228v3M405.5 228v3M406.5 228v3M407.5 228v3M408.5 228v3M409.5 228v3M410.5 228v3M411.5 228v3M412.5 228v3M413.5 228v3M414.5 228v3M415.5 228v3M416.5 228v3M417.5 228v3M418.5 228v3M419.5 228v3M420.5 228v3M421.5 228v3M422.5 228v3M423.5 228v3M424.5 228v3M425.5 228v3M426.5 228v3M427.5 228v3M428.5 228v3M429.5 228v3M430.5 228v3M431.5 228v3M432.5 228v3M433.5 228v3M434.5 228v3M435.5 228v3M436.5 228v3M437.5 228v3M438.5 228v3M439.5 228v3M440.5 228v3M441.5 228v3M442.5 228v3M443.5 228v3M444.5 228v3M445.5 228v3M446.5 228v3M447.5 228v3M448.5 228v3M449.5 228v3M450.5 228v3M451.5 228v3M452.5 228v3M453.5 228v3M454.5 228v3M455.5 228v3M456.5 228v3M457.5 228v3M458.5 228v3M459.5 228v3M460.5 228v3M461.5 228v3M462.5 228v3M463.5 228v3M464.5 228v3M465.5 228v3M466.5 228v3M467.5 228v3M468.5 229v2M469.5 228v3M470.5 228v3M471.5 228v3M472.5 228v3M473.5 228v3M474.5 228v3M475.5 228v3M476.5 228v3M477.5 228v3M478.5 228v3M479.5 228v3M480.5 228v3M481.5 228v3M482.5 228v3M483.5 228v3M484.5 228v3M485.5 228v3M486.5 228v3M487.5 228v2M488.5 228v3M489.5 228v3M490.5 228v3M491.5 228v3M492.5 228v3M493.5 228v3M494.5 228v3M495.5 229v2M496.5 228v3M497.5 228v3M498.5 228v3M499.5 228v2M500.5 228v3M501.5 229v2M502.5 228v3M503.5 229v2M504.5 228v3M505.5 228v3M506.5 228v3M507.5 228v3M508.5 228v3M509.5 228v3M510.5 228v2M511.5 228v3M512.5 228v3M513.5 228v2M514.5 228v3M515.5 228v2M516.5 228v3M517.5 228v3M518.5 228v3M519.5 228v3M520.5 228v3M521.5 228v2M522.5 228v3M523.5 228v2M524.5 228v3M525.5 229v2M526.5 228v2M527.5 228v3M528.5 229v2M529.5 228v3M530.5 228v3M531.5 229v2M532.5 229v2M533.5 228v2M534.5 228v3M535.5 229v2M536.5 228v3M537.5 228v3M538.5 228v3M539.5 228v3M540.5 228v2M541.5 228v2M542.5 228v3M543.5 228v3M544.5 228v3M545.5 228v2M546.5 228v3" stroke="#0000ff" stroke-width="1" fill="none"/><rect x="2.5" y="204.5" width="645" height="59" fill="none" stroke="#000" stroke-width="1"/><path d="M9.5 205v2M17.5 205v2M25.5 205v2M33.5 205v2M41.5 205v6M49.5 205v2M57.5 205v2M65.5 205v2M73.5 205v2M81.5 205v4M89.5 205v2M97.5 205v2M105.5 205v2M113.5 205v2M121.5 205v6M129.5 205v2M137.5 205v2M145.5 205v2M153.5 205v2M161.5 205v4M169.5 205v2M177.5 205v2M185.5 205v2M193.5 205v2M201.5 205v6M209.5 205v2M217.5 205v2M225.5 205v2M233.5 205v2M241.5 205v4M249.5 205v2M257.5 205v2M265.5 205v2M274.5 205v2M282.5 205v6M290.5 205v2M298.5 205v2M306.5 205v2M314.5 205v2M322.5 205v4M330.5 205v2M338.5 205v2M346.5 205v2M354.5 205v2M362.5 205v6M370.5 205v2M378.5 205v2M386.5 205v2M394.5 205v2M402.5 205v4M410.5 205v2M418.5 205v2M426.5 205v2M434.5 205v2M442.5 205v8M450.5 205v2M458.5 205v2M466.5 205v2M474.5 205v2M482.5 205v4M490.5 205v2M498.5 205v2M506.5 205v2M514.5 205v2M522.5 205v6M530.5 205v2M538.5 205v2M546.5 205v2M554.5 205v2M562.5 205v4M570.5 205v2M578.5 205v2M586.5 205v2M594.5 205v2M602.5 205v6M610.5 205v2M618.5 205v2M626.5 205v2M634.5 205v2M642.5 205v4" stroke="#000" stroke-width="1"/><rect x="77" y="204" width="33" height="12" fill="#ff0000"/><text class="l" x="79" y="214">* Pd1</text><polyline points="72.5,209.5 74.5,213.5 77.5,218.5 82.5,222.5 90.5,225.5 100.5,227.5 110.5,228.5 113.5,228.5" stroke="#000000" stroke-width="1" fill="none" shape-rendering="crispEdges"/><polyline points="113.5,228.5 209.5,229.5" stroke="#ff0000" stroke-width="1" fill="none" shape-rendering="crispEdges"/><path d="M199 222h3v15h-3zM200 221h1v1h-1zM200 237h1v1h-1z" fill="#ff0000" shape-rendering="crispEdges"/><path d="M197 215h3v1h-3z" fill="#ff0000" shape-rendering="crispEdges"/><text class="t" x="445" y="217">13:36</text><text class="t" x="12" y="262">UW BHW EHZ -- 32.3km</text></g>
<g><rect x="107" y="265" width="4" height="58" fill="#bfe6bf"/><rect x="142" y="265" width="4" height="58" fill="#bfe6bf"/><rect x="115" y="265" width="1" height="58" fill="#ff0000"/><path d="M29.5 294v4M30.5 294v4M31.5 294v2M32.5 292v4M33.5 292v5M34.5 293v6M35.5 293v2M36.5 291v7M37.5 294v4M38.5 290v9M39.5 290v4M40.5 293v6M41.5 293v5M42.5 295v3M43.5 295v3M44.5 294v2M45.5 295v3M46.5 295v4M47.5 295v4M48.5 292v6M49.5 292v6M50.5 295v3M51.5 293v4M52.5 294v2M53.5 295v3M54.5 294v3M55.5 293v3M56.5 292v7M57.5 297v2M58.5 291v8M59.5 293v5M60.5 290v9M61.5 290v9M62.5 293v2M63.5 294v4M64.5 292v3M65.5 293v5M66.5 292v6M67.5 293v6M68.5 297v3M69.5 296v4M70.5 292v7M71.5 292v4M72.5 290v6M73.5 290v6M74.5 290v6M75.5 288v5M76.5 288v5M77.5 288v5M78.5 288v6M79.5 289v5M80.5 289v4M81.5 292v3M82.5 290v3M83.5 292v4M84.5 289v5M85.5 289v5M86.5 292v6M87.5 291v7M88.5 292v6M89.5 296v2M90.5 294v3M91.5 292v5M92.5 294v3M93.5 292v4M94.5 295v2M95.5 295v3M96.5 292v6M97.5 292v5M98.5 293v5M99.5 292v6M100.5 292v3M101.5 292v3M102.5 290v5M103.5 293v2M104.5 293v3M105.5 295v4M106.5 295v4M107.5 294v4M108.5 294v2M109.5 294v2M110.5 292v3M111.5 292v2M112.5 293v5M113.5 295v3M114.5 291v6M115.5 291v4M116.5 286v9M117.5 285v20M118.5 282v14M119.5 285v12M120.5 283v22M121.5 288v12M122.5 282v17M123.5 281v16M124.5 278v22M125.5 287v19M126.5 286v25M127.5 289v17M128.5 288v23M129.5 284v16M130.5 286v11M131.5 287v13M132.5 280v17M133.5 287v22M134.5 278v23M135.5 287v19M136.5 287v11M137.5 275v38M138.5 274v26M139.5 273v32M140.5 286v13M141.5 283v17M142.5 287v12M143.5 287v15M144.5 287v27M145.5 279v27M146.5 286v23M147.5 285v21M148.5 288v11M149.5 288v17M150.5 281v20M151.5 287v20M152.5 278v28M153.5 273v33M154.5 276v27M155.5 280v31M156.5 266v35M157.5 284v14M158.5 276v36M159.5 277v22M160.5 274v28M161.5 282v31M162.5 283v15M163.5 268v30M164.5 273v25M165.5 279v33M166.5 274v27M167.5 280v35M168.5 284v21M169.5 285v13M170.5 279v26M171.5 285v20M172.5 276v33M173.5 281v31M174.5 284v29M175.5 269v31M176.5 273v31M177.5 287v14M178.5 289v20M179.5 279v34M180.5 278v35M181.5 272v39M182.5 290v16M183.5 290v15M184.5 282v32M185.5 287v21M186.5 290v19M187.5 281v26M188.5 272v31M189.5 280v23M190.5 285v19M191.5 272v32M192.5 284v26M193.5 281v20M194.5 272v31M195.5 282v17M196.5 285v13M197.5 281v36M198.5 282v33M199.5 283v28M200.5 275v26M201.5 286v17M202.5 284v17M203.5 270v35M204.5 290v13M205.5 281v26M206.5 287v27M207.5 283v35M208.5 281v19M209.5 276v26M210.5 273v42M211.5 266v42M212.5 285v24M213.5 267v49M214.5 281v17M215.5 284v21M216.5 286v15M217.5 285v29M218.5 287v12M219.5 272v34M220.5 288v28M221.5 289v12M222.5 288v22M223.5 278v22M224.5 271v36M225.5 285v20M226.5 284v17M227.5 270v27M228.5 284v17M229.5 285v15M230.5 285v21M231.5 282v20M232.5 285v14M233.5 283v14M234.5 284v14M235.5 271v26M236.5 277v32M237.5 269v29M238.5 272v23M239.5 278v22M240.5 274v24M241.5 278v20M242.5 286v18M243.5 288v12M244.5 290v11M245.5 291v11M246.5 284v18M247.5 286v16M248.5 290v10M249.5 287v23M250.5 288v9M251.5 284v13M252.5 278v21M253.5 287v13M254.5 280v20M255.5 286v22M256.5 287v15M257.5 287v11M258.5 277v25M259.5 282v23M260.5 280v16M261.5 287v15M262.5 278v20M263.5 288v9M264.5 289v8M265.5 291v9M266.5 287v13M267.5 290v15M268.5 290v20M269.5 293v10M270.5 286v18M271.5 292v15M272.5 293v8M273.5 293v15M274.5 290v14M275.5 293v12M276.5 293v10M277.5 291v9M278.5 292v11M279.5 292v8M280.5 285v11M281.5 285v20M282.5 288v16M283.5 288v15M284.5 287v16M285.5 288v15M286.5 283v13M287.5 283v9M288.5 283v16M289.5 293v9M290.5 293v3M291.5 294v8M292.5 294v3M293.5 291v8M294.5 288v7M295.5 287v15M296.5 287v16M297.5 290v13M298.5 288v13M299.5 287v5M300.5 290v12M301.5 289v7M302.5 291v9M303.5 291v7M304.5 287v10M305.5 288v6M306.5 288v13M307.5 294v7M308.5 294v2M309.5 294v3M310.5 289v13M311.5 289v8M312.5 296v5M313.5 297v4M314.5 290v10M315.5 286v12M316.5 290v3M317.5 285v11M318.5 285v8M319.5 286v14M320.5 287v13M321.5 287v8M322.5 289v8M323.5 290v7M324.5 291v2M325.5 292v5M326.5 289v8M327.5 288v7M328.5 294v4M329.5 293v5M330.5 293v9M331.5 290v12M332.5 292v7M333.5 289v10M334.5 294v3M335.5 294v6M336.5 294v6M337.5 294v4M338.5 288v10M339.5 288v8M340.5 295v4M341.5 292v7M342.5 291v9M343.5 291v6M344.5 296v8M345.5 295v9M346.5 295v9M347.5 290v14M348.5 291v5M349.5 295v8M350.5 294v9M351.5 288v7M352.5 288v5M353.5 288v6M354.5 292v2M355.5 292v3M356.5 293v4M357.5 292v4M358.5 290v6M359.5 290v6M360.5 288v7M361.5 286v9M362.5 286v6M363.5 286v6M364.5 289v3M365.5 289v9M366.5 294v4M367.5 294v5M368.5 288v11M369.5 288v9M370.5 284v13M371.5 284v12M372.5 290v6M373.5 286v10M374.5 293v2M375.5 288v8M376.5 288v4M377.5 285v8M378.5 288v7M379.5 288v4M380.5 289v4M381.5 288v5M382.5 285v12M383.5 285v7M384.5 291v5M385.5 284v15M386.5 288v11M387.5 288v5M388.5 289v9M389.5 288v6M390.5 286v5M391.5 285v6M392.5 290v3M393.5 291v7M394.5 291v7M395.5 291v4M396.5 285v8M397.5 285v14M398.5 288v5M399.5 289v3M400.5 291v7M401.5 289v9M402.5 289v5M403.5 292v4M404.5 293v8M405.5 292v4M406.5 287v9M407.5 287v12M408.5 288v11M409.5 288v5M410.5 284v7M411.5 284v11M412.5 285v10M413.5 285v13M414.5 290v5M415.5 288v9M416.5 288v9M417.5 289v7M418.5 289v10M419.5 294v5M420.5 294v6M421.5 289v11M422.5 290v9M423.5 290v3M424.5 289v7M425.5 289v7M426.5 287v10M427.5 286v11M428.5 288v9M429.5 288v8M430.5 293v3M431.5 293v6M432.5 291v9M433.5 291v2M434.5 288v8M435.5 286v11M436.5 286v13M437.5 290v9M438.5 289v9M439.5 288v5M440.5 288v7M441.5 287v6M442.5 287v10M443.5 294v3M444.5 293v7M445.5 292v2M446.5 288v14M447.5 288v4M448.5 291v10M449.5 292v5M450.5 294v5M451.5 296v2M452.5 296v5M453.5 293v8M454.5 292v7M455.5 289v10M456.5 288v11M457.5 289v7M458.5 287v5M459.5 291v8M460.5 290v7M461.5 289v8M462.5 289v9M463.5 291v7M464.5 286v10M465.5 293v3M466.5 290v4M467.5 288v7M468.5 288v13M469.5 288v13M470.5 288v12M471.5 289v9M472.5 294v5M473.5 289v10M474.5 289v3M475.5 289v9M476.5 288v9M477.5 288v13M478.5 289v12M479.5 288v11M480.5 290v9M481.5 294v4M482.5 290v5M483.5 289v9M484.5 288v2M485.5 287v4M486.5 286v2M487.5 286v11M488.5 292v5M489.5 287v7M490.5 291v7M491.5 291v12M492.5 295v6M493.5 294v8M494.5 294v5M495.5 293v4M496.5 288v10M497.5 297v3M498.5 291v8M499.5 291v8M500.5 293v6M501.5 289v7M502.5 284v13M503.5 286v11M504.5 286v12M505.5 291v7M506.5 292v8M507.5 294v8M508.5 290v10M509.5 290v12M510.5 290v3M511.5 292v3M512.5 292v4M513.5 292v4M514.5 288v8M515.5 288v12M516.5 292v8M517.5 292v7M518.5 292v3M519.5 291v7M520.5 289v9M521.5 289v2M522.5 290v8M523.5 290v8M524.5 289v3M525.5 289v5M526.5 289v8M527.5 287v10M528.5 288v9M529.5 287v3M530.5 287v10M531.5 291v4M532.5 291v8M533.5 292v7M534.5 292v10M535.5 292v9M536.5 292v7M537.5 294v5M538.5 292v3M539.5 287v7M540.5 291v5M541.5 293v3M542.5 292v8M543.5 291v2M544.5 288v5M545.5 288v10M546.5 291v9M547.5 287v14M548.5 287v8M549.5 293v2" stroke="#1c0048" stroke-width="1" fill="none"/><rect x="2.5" y="264.5" width="645" height="59" fill="none" stroke="#000" stroke-width="1"/><path d="M9.5 265v2M17.5 265v2M25.5 265v2M33.5 265v2M41.5 265v6M49.5 265v2M57.5 265v2M65.5 265v2M73.5 265v2M81.5 265v4M89.5 265v2M97.5 265v2M105.5 265v2M113.5 265v2M121.5 265v6M129.5 265v2M137.5 265v2M145.5 265v2M153.5 265v2M161.5 265v4M169.5 265v2M177.5 265v2M185.5 265v2M193.5 265v2M201.5 265v6M209.5 265v2M217.5 265v2M225.5 265v2M233.5 265v2M241.5 265v4M249.5 265v2M257.5 265v2M265.5 265v2M274.5 265v2M282.5 265v6M290.5 265v2M298.5 265v2M306.5 265v2M314.5 265v2M322.5 265v4M330.5 265v2M338.5 265v2M346.5 265v2M354.5 265v2M362.5 265v6M370.5 265v2M378.5 265v2M386.5 265v2M394.5 265v2M402.5 265v4M410.5 265v2M418.5 265v2M426.5 265v2M434.5 265v2M442.5 265v8M450.5 265v2M458.5 265v2M466.5 265v2M474.5 265v2M482.5 265v4M490.5 265v2M498.5 265v2M506.5 265v2M514.5 265v2M522.5 265v6M530.5 265v2M538.5 265v2M546.5 265v2M554.5 265v2M562.5 265v4M570.5 265v2M578.5 265v2M586.5 265v2M594.5 265v2M602.5 265v6M610.5 265v2M618.5 265v2M626.5 265v2M634.5 265v2M642.5 265v4" stroke="#000" stroke-width="1"/><rect x="83" y="264" width="33" height="12" fill="#ff0000"/><text class="l" x="85" y="274">* P.2</text><polyline points="98.5,264.5 104.5,268.5 115.5,275.5 130.5,280.5 146.5,285.2" stroke="#000000" stroke-width="1" fill="none" shape-rendering="crispEdges"/><polyline points="146.5,285.2 200.5,288.5 262.5,290.5 280.5,292.0" stroke="#ff0000" stroke-width="1" fill="none" shape-rendering="crispEdges"/><polyline points="280.5,292.0 368.5,291.5" stroke="#000000" stroke-width="1" fill="none" shape-rendering="crispEdges"/><path d="M367 285h3v15h-3zM368 284h1v1h-1zM368 300h1v1h-1z" fill="#ff0000" shape-rendering="crispEdges"/><path d="M365 278h3v1h-3z" fill="#ff0000" shape-rendering="crispEdges"/><text class="t" x="445" y="277">13:36</text><text class="t" x="12" y="322">UW SP2 BHZ -- 33.2km</text></g>
<g><rect x="119" y="325" width="3" height="58" fill="#bfe6bf"/><rect x="165" y="325" width="3" height="58" fill="#bfe6bf"/><rect x="122" y="325" width="1" height="58" fill="#ff0000"/><path d="M41.5 353v2M42.5 352v2M43.5 352v3M44.5 352v2M45.5 353v2M46.5 353v2M47.5 353v2M48.5 353v2M49.5 352v3M50.5 352v3M51.5 353v2M52.5 353v2M53.5 353v2M54.5 352v2M55.5 353v2M56.5 353v2M57.5 352v2M58.5 353v2M59.5 352v3M60.5 352v3M61.5 352v3M62.5 352v2M63.5 352v2M64.5 352v2M65.5 353v2M66.5 352v2M67.5 353v2M68.5 352v2M69.5 353v2M70.5 352v3M71.5 352v3M72.5 352v2M73.5 353v2M74.5 353v2M75.5 353v2M76.5 353v2M77.5 353v2M78.5 352v2M79.5 353v2M80.5 352v3M81.5 353v2M82.5 353v2M83.5 352v3M84.5 352v2M85.5 352v2M86.5 353v2M87.5 352v2M88.5 353v2M89.5 353v2M90.5 352v3M91.5 353v2M92.5 353v2M93.5 353v2M94.5 352v3M95.5 352v3M96.5 353v2M97.5 352v3M98.5 352v2M99.5 352v3M100.5 352v3M101.5 352v2M102.5 353v2M103.5 352v3M104.5 352v2M105.5 353v2M106.5 352v2M107.5 353v2M108.5 353v2M109.5 352v3M110.5 353v2M111.5 352v2M112.5 352v3M113.5 352v2M114.5 352v2M115.5 353v2M116.5 353v2M117.5 353v2M118.5 352v2M119.5 353v2M120.5 353v2M121.5 353v2M122.5 352v2M123.5 325v58M124.5 344v28M125.5 337v24M126.5 330v39M127.5 335v29M128.5 348v10M129.5 342v24M130.5 344v14M131.5 338v20M132.5 341v17M133.5 349v15M134.5 349v9M135.5 344v17M136.5 350v10M137.5 345v14M138.5 342v18M139.5 349v8M140.5 350v15M141.5 350v8M142.5 349v11M143.5 345v13M144.5 350v10M145.5 349v8M146.5 345v12M147.5 350v15M148.5 347v12M149.5 350v11M150.5 342v21M151.5 350v9M152.5 348v15M153.5 342v19M154.5 346v14M155.5 350v13M156.5 348v9M157.5 350v7M158.5 350v7M159.5 346v17M160.5 346v14M161.5 344v14M162.5 350v14M163.5 349v10M164.5 344v14M165.5 342v22M166.5 347v17M167.5 345v19M168.5 348v11M169.5 347v13M170.5 334v28M171.5 348v11M172.5 348v15M173.5 349v9M174.5 346v12M175.5 349v9M176.5 348v13M177.5 345v18M178.5 347v15M179.5 349v9M180.5 347v17M181.5 344v17M182.5 343v14M183.5 350v7M184.5 348v9M185.5 350v7M186.5 350v7M187.5 349v12M188.5 348v10M189.5 350v7M190.5 347v10M191.5 350v9M192.5 348v11M193.5 344v16M194.5 349v10M195.5 348v14M196.5 349v8M197.5 350v7M198.5 350v12M199.5 348v9M200.5 349v8M201.5 350v9M202.5 349v8M203.5 344v13M204.5 348v10M205.5 348v13M206.5 349v8M207.5 345v13M208.5 349v7M209.5 348v11M210.5 347v11M211.5 347v10M212.5 350v12M213.5 350v6M214.5 350v6M215.5 351v5M216.5 348v10M217.5 346v11M218.5 345v11M219.5 351v11M220.5 350v7M221.5 348v10M222.5 351v9M223.5 350v6M224.5 350v11M225.5 349v7M226.5 347v9M227.5 349v9M228.5 346v10M229.5 350v6M230.5 350v9M231.5 351v5M232.5 351v6M233.5 351v6M234.5 351v6M235.5 349v8M236.5 350v9M237.5 348v12M238.5 351v7M239.5 351v5M240.5 351v5M241.5 351v7M242.5 351v7M243.5 351v5M244.5 351v9M245.5 350v7M246.5 350v6M247.5 350v6M248.5 351v5M249.5 349v7M250.5 351v5M251.5 348v11M252.5 349v7M253.5 351v6M254.5 348v9M255.5 351v6M256.5 352v7M257.5 351v5M258.5 349v8M259.5 350v8M260.5 350v8M261.5 351v5M262.5 352v4M263.5 350v5M264.5 349v7M265.5 349v6M266.5 351v5M267.5 349v7M268.5 350v6M269.5 351v4M270.5 352v6M271.5 351v4M272.5 351v5M273.5 352v3M274.5 352v5M275.5 350v5M276.5 350v5M277.5 349v8M278.5 350v6M279.5 352v3M280.5 351v7M281.5 352v4M282.5 352v5M283.5 350v5M284.5 351v6M285.5 352v4M286.5 351v4M287.5 351v4M288.5 352v3M289.5 351v4M290.5 352v4M291.5 352v3M292.5 350v7M293.5 351v4M294.5 352v3M295.5 352v3M296.5 350v5M297.5 350v5M298.5 352v4M299.5 352v4M300.5 352v3M301.5 350v7M302.5 350v6M303.5 352v4M304.5 351v4M305.5 351v6M306.5 351v6M307.5 352v5M308.5 352v3M309.5 352v4M310.5 352v4M311.5 352v3M312.5 351v4M313.5 352v3M314.5 351v4M315.5 352v3M316.5 351v5M317.5 352v4M318.5 352v4M319.5 352v3M320.5 352v3M321.5 351v4M322.5 352v3M323.5 352v3M324.5 352v3M325.5 351v5M326.5 352v3M327.5 351v4M328.5 352v3M329.5 352v4M330.5 352v3M331.5 351v4M332.5 352v4M333.5 351v4M334.5 352v3M335.5 352v4M336.5 351v5M337.5 352v3M338.5 352v3M339.5 352v3M340.5 352v3M341.5 352v4M342.5 352v4M343.5 352v3M344.5 352v3M345.5 352v4M346.5 351v5M347.5 352v3M348.5 351v4M349.5 352v3M350.5 352v3M351.5 352v3M352.5 352v3M353.5 351v4M354.5 351v4M355.5 352v3M356.5 352v4M357.5 352v3M358.5 352v3M359.5 352v4M360.5 352v3M361.5 351v4M362.5 351v4M363.5 352v4M364.5 351v4M365.5 352v3M366.5 351v5M367.5 352v3M368.5 352v3M369.5 352v3M370.5 351v4M371.5 352v4M372.5 352v4M373.5 352v4M374.5 352v3M375.5 352v3M376.5 352v3M377.5 352v3M378.5 352v4M379.5 351v4M380.5 352v4M381.5 352v3M382.5 352v3M383.5 352v3M384.5 352v3M385.5 351v4M386.5 352v3M387.5 352v3M388.5 352v3M389.5 351v4M390.5 352v3M391.5 351v4M392.5 352v3M393.5 352v4M394.5 351v4M395.5 351v4M396.5 352v3M397.5 351v4M398.5 352v4M399.5 352v3M400.5 352v3M401.5 352v3M402.5 352v3M403.5 351v4M404.5 352v3M405.5 352v3M406.5 352v2M407.5 352v3M408.5 352v2M409.5 352v3M410.5 352v3M411.5 352v4M412.5 353v2M413.5 352v3M414.5 351v4M415.5 351v4M416.5 352v3M417.5 352v3M418.5 352v3M419.5 352v4M420.5 352v3M421.5 352v3M422.5 352v3M423.5 352v3M424.5 353v2M425.5 352v3M426.5 352v3M427.5 351v4M428.5 351v4M429.5 352v3M430.5 352v3M431.5 353v2M432.5 352v2M433.5 352v3M434.5 352v2M435.5 352v3M436.5 352v2M437.5 351v5M438.5 352v3M439.5 352v3M440.5 353v2M441.5 352v3M442.5 353v2M443.5 353v2M444.5 352v3M445.5 352v3M446.5 353v2M447.5 352v3M448.5 353v2M449.5 352v3M450.5 352v2M451.5 353v2M452.5 352v3M453.5 352v2M454.5 352v3M455.5 352v3M456.5 352v3M457.5 352v3M458.5 352v3M459.5 352v2M460.5 352v2M461.5 352v3M462.5 352v3M463.5 353v2M464.5 352v3M465.5 352v4M466.5 353v2M467.5 353v2M468.5 352v2M469.5 352v3M470.5 353v2M471.5 352v3M472.5 352v2M473.5 353v2M474.5 352v3M475.5 352v3M476.5 353v2M477.5 352v3M478.5 352v3M479.5 352v2M480.5 353v2M481.5 352v3M482.5 352v2M483.5 351v3M484.5 352v3M485.5 352v3M486.5 353v2M487.5 353v2M488.5 352v3M489.5 352v3M490.5 352v3M491.5 352v4M492.5 352v3M493.5 352v3M494.5 352v3M495.5 353v2M496.5 352v3M497.5 353v2M498.5 352v2M499.5 352v3M500.5 352v3M501.5 352v3M502.5 353v2M503.5 352v3M504.5 353v2M505.5 352v3M506.5 353v2M507.5 353v2M508.5 352v2M509.5 352v3M510.5 352v3M511.5 352v3M512.5 353v2M513.5 352v3M514.5 352v3M515.5 352v3M516.5 353v2M517.5 353v2M518.5 352v3M519.5 352v3M520.5 352v2M521.5 352v2M522.5 352v2M523.5 352v3M524.5 352v2M525.5 352v2M526.5 352v3M527.5 352v3M528.5 353v2M529.5 353v2M530.5 352v2M531.5 353v2M532.5 352v3M533.5 353v2M534.5 353v2M535.5 352v2M536.5 352v2M537.5 352v2M538.5 353v2M539.5 352v2M540.5 352v2M541.5 352v2M542.5 352v3M543.5 353v2M544.5 353v2M545.5 352v3M546.5 353v2M547.5 353v2M548.5 353v2M549.5 353v2M550.5 352v2M551.5 352v3M552.5 352v2M553.5 352v2M554.5 352v2M555.5 353v2M556.5 352v2M557.5 352v3M558.5 352v2M559.5 353v2M560.5 352v2M561.5 353v2M562.5 353v2M563.5 353v2M564.5 352v3M565.5 352v3M566.5 352v3M567.5 353v2M568.5 353v2M569.5 353v2M570.5 353v2" stroke="#0000ff" stroke-width="1" fill="none"/><rect x="2.5" y="324.5" width="645" height="59" fill="none" stroke="#000" stroke-width="1"/><path d="M9.5 325v2M17.5 325v2M25.5 325v2M33.5 325v2M41.5 325v6M49.5 325v2M57.5 325v2M65.5 325v2M73.5 325v2M81.5 325v4M89.5 325v2M97.5 325v2M105.5 325v2M113.5 325v2M121.5 325v6M129.5 325v2M137.5 325v2M145.5 325v2M153.5 325v2M161.5 325v4M169.5 325v2M177.5 325v2M185.5 325v2M193.5 325v2M201.5 325v6M209.5 325v2M217.5 325v2M225.5 325v2M233.5 325v2M241.5 325v4M249.5 325v2M257.5 325v2M265.5 325v2M274.5 325v2M282.5 325v6M290.5 325v2M298.5 325v2M306.5 325v2M314.5 325v2M322.5 325v4M330.5 325v2M338.5 325v2M346.5 325v2M354.5 325v2M362.5 325v6M370.5 325v2M378.5 325v2M386.5 325v2M394.5 325v2M402.5 325v4M410.5 325v2M418.5 325v2M426.5 325v2M434.5 325v2M442.5 325v8M450.5 325v2M458.5 325v2M466.5 325v2M474.5 325v2M482.5 325v4M490.5 325v2M498.5 325v2M506.5 325v2M514.5 325v2M522.5 325v6M530.5 325v2M538.5 325v2M546.5 325v2M554.5 325v2M562.5 325v4M570.5 325v2M578.5 325v2M586.5 325v2M594.5 325v2M602.5 325v6M610.5 325v2M618.5 325v2M626.5 325v2M634.5 325v2M642.5 325v4" stroke="#000" stroke-width="1"/><rect x="90" y="324" width="33" height="12" fill="#ff0000"/><text class="l" x="92" y="334">* Pc0</text><polyline points="82.5,325.5 85.5,330.5 88.5,335.5 92.5,339.5 96.5,341.5" stroke="#000000" stroke-width="1" fill="none" shape-rendering="crispEdges"/><polyline points="96.5,341.5 105.5,344.0 115.5,347.9 122.5,349.9 140.5,351.0 163.5,351.9 193.0,352.5" stroke="#ff0000" stroke-width="1" fill="none" shape-rendering="crispEdges"/><path d="M183 346h3v14h-3zM184 345h1v1h-1zM184 360h1v1h-1z" fill="#ff0000" shape-rendering="crispEdges"/><path d="M181 339h3v1h-3z" fill="#ff0000" shape-rendering="crispEdges"/><text class="t" x="445" y="337">13:36</text><text class="t" x="12" y="382">UW GSM EHZ -- 42.8km</text></g>
<g><rect x="124" y="385" width="4" height="58" fill="#bfe6bf"/><rect x="172" y="385" width="4" height="58" fill="#bfe6bf"/><rect x="129" y="385" width="1" height="58" fill="#ff0000"/><path d="M46.5 415v2M47.5 415v2M48.5 414v2M49.5 414v2M50.5 414v2M51.5 414v2M52.5 413v2M53.5 413v2M54.5 413v2M55.5 412v2M56.5 412v2M57.5 412v2M58.5 412v2M59.5 412v2M60.5 412v2M61.5 412v2M62.5 412v2M63.5 412v2M64.5 412v2M65.5 412v2M66.5 412v2M67.5 412v2M68.5 412v2M69.5 412v2M70.5 412v2M71.5 412v2M72.5 411v2M73.5 412v2M74.5 412v2M75.5 412v2M76.5 412v2M77.5 412v2M78.5 412v2M79.5 412v2M80.5 412v2M81.5 412v2M82.5 412v2M83.5 412v2M84.5 411v2M85.5 411v2M86.5 410v2M87.5 410v2M88.5 411v2M89.5 411v3M90.5 412v3M91.5 413v3M92.5 414v3M93.5 415v2M94.5 415v2M95.5 415v2M96.5 415v2M97.5 415v2M98.5 415v2M99.5 415v2M100.5 414v2M101.5 414v2M102.5 414v2M103.5 414v2M104.5 413v2M105.5 413v2M106.5 413v2M107.5 413v2M108.5 413v2M109.5 413v2M110.5 413v2M111.5 413v2M112.5 413v2M113.5 412v2M114.5 412v2M115.5 412v2M116.5 411v2M117.5 410v2M118.5 410v2M119.5 409v2M120.5 409v2M121.5 408v2M122.5 408v2M123.5 407v2M124.5 408v2M125.5 408v2M126.5 409v2M127.5 409v2M128.5 410v3M129.5 411v2M130.5 396v37M131.5 410v9M132.5 415v4M133.5 412v9M134.5 408v13M135.5 406v19M136.5 413v12M137.5 414v11M138.5 411v14M139.5 409v16M140.5 409v3M141.5 409v3M142.5 411v5M143.5 406v16M144.5 406v11M145.5 408v15M146.5 408v18M147.5 409v17M148.5 415v9M149.5 412v9M150.5 409v12M151.5 400v12M152.5 400v18M153.5 413v4M154.5 414v7M155.5 410v11M156.5 405v14M157.5 405v14M158.5 405v14M159.5 403v12M160.5 403v7M161.5 403v16M162.5 409v10M163.5 405v5M164.5 401v7M165.5 401v20M166.5 415v6M167.5 404v12M168.5 404v6M169.5 407v5M170.5 400v12M171.5 397v12M172.5 408v5M173.5 402v11M174.5 402v12M175.5 406v6M176.5 406v25M177.5 410v12M178.5 406v30M179.5 406v26M180.5 391v41M181.5 404v33M182.5 387v46M183.5 402v22M184.5 391v30M185.5 394v34M186.5 398v30M187.5 398v27M188.5 391v46M189.5 400v22M190.5 391v33M191.5 396v36M192.5 400v32M193.5 401v20M194.5 398v34M195.5 389v45M196.5 402v36M197.5 393v28M198.5 396v24M199.5 401v16M200.5 397v11M201.5 406v8M202.5 406v18M203.5 406v5M204.5 406v8M205.5 408v14M206.5 398v24M207.5 398v24M208.5 409v13M209.5 401v12M210.5 401v17M211.5 407v11M212.5 405v9M213.5 413v5M214.5 407v11M215.5 401v7M216.5 394v14M217.5 403v10M218.5 408v12M219.5 406v7M220.5 405v16M221.5 405v12M222.5 397v23M223.5 397v20M224.5 405v16M225.5 404v17M226.5 407v12M227.5 409v5M228.5 410v8M229.5 402v16M230.5 404v11M231.5 408v7M232.5 400v9M233.5 399v17M234.5 399v14M235.5 399v16M236.5 399v11M237.5 409v8M238.5 409v11M239.5 407v6M240.5 411v6M241.5 409v8M242.5 405v5M243.5 404v9M244.5 404v7M245.5 407v5M246.5 411v3M247.5 404v17M248.5 404v16M249.5 411v3M250.5 403v9M251.5 403v7M252.5 404v6M253.5 405v11M254.5 414v6M255.5 407v8M256.5 407v7M257.5 408v6M258.5 406v9M259.5 406v7M260.5 410v6M261.5 406v8M262.5 408v4M263.5 411v4M264.5 407v8M265.5 407v8M266.5 414v2M267.5 410v7M268.5 413v4M269.5 412v2M270.5 412v5M271.5 410v6M272.5 412v4M273.5 411v3M274.5 409v7M275.5 409v7M276.5 410v6M277.5 410v4M278.5 411v6M279.5 411v7M280.5 412v4M281.5 415v4M282.5 415v4M283.5 414v3M284.5 414v5M285.5 415v5M286.5 417v3M287.5 414v4M288.5 415v2M289.5 415v3M290.5 416v4M291.5 416v4M292.5 415v3M293.5 415v4M294.5 415v4M295.5 414v5M296.5 414v2M297.5 414v2M298.5 411v4M299.5 411v3M300.5 409v5M301.5 410v2M302.5 407v4M303.5 407v4M304.5 409v2M305.5 407v4M306.5 407v3M307.5 406v4M308.5 406v4M309.5 407v4M310.5 408v3M311.5 407v2M312.5 407v3M313.5 408v2M314.5 408v2M315.5 408v5M316.5 409v4M317.5 412v2M318.5 413v2M319.5 414v3M320.5 416v3M321.5 415v5M322.5 415v5M323.5 414v6M324.5 413v5M325.5 412v6M326.5 412v4M327.5 413v3M328.5 410v4M329.5 410v4M330.5 410v3M331.5 409v5M332.5 409v5M333.5 408v4M334.5 408v4M335.5 410v3M336.5 409v4M337.5 409v3M338.5 409v3M339.5 411v2M340.5 411v2M341.5 411v3M342.5 412v3M343.5 411v4M344.5 411v5M345.5 415v2M346.5 414v3M347.5 412v3M348.5 412v4M349.5 415v2M350.5 412v5M351.5 412v3M352.5 410v5M353.5 410v2M354.5 410v3M355.5 409v3M356.5 407v4M357.5 406v5M358.5 406v5M359.5 406v4M360.5 406v5M361.5 407v3M362.5 409v3M363.5 409v3M364.5 411v2M365.5 410v2M366.5 410v2M367.5 410v4M368.5 412v3M369.5 414v4M370.5 415v2M371.5 415v2M372.5 413v5M373.5 413v5M374.5 413v6M375.5 414v3M376.5 416v3M377.5 414v3M378.5 414v3M379.5 414v3M380.5 416v2M381.5 414v5M382.5 414v4M383.5 414v3M384.5 413v3M385.5 413v3M386.5 411v4M387.5 411v2M388.5 409v5M389.5 409v2M390.5 409v2M391.5 409v2M392.5 409v2M393.5 408v2M394.5 407v3M395.5 408v2M396.5 408v2M397.5 407v3M398.5 408v2M399.5 408v2M400.5 408v4M401.5 410v2M402.5 409v2M403.5 410v2M404.5 409v3M405.5 411v2M406.5 411v2M407.5 411v2M408.5 411v2M409.5 411v5M410.5 411v4M411.5 413v2M412.5 413v4M413.5 414v2M414.5 415v2M415.5 413v3M416.5 413v3M417.5 414v2M418.5 414v2M419.5 413v3M420.5 413v3M421.5 413v2M422.5 411v4M423.5 412v2M424.5 411v3M425.5 411v4M426.5 413v2M427.5 412v2M428.5 412v3M429.5 411v2M430.5 411v2M431.5 411v2M432.5 411v2M433.5 409v3M434.5 409v3M435.5 409v3M436.5 408v4M437.5 408v3M438.5 409v2M439.5 409v2M440.5 410v2M441.5 408v4M442.5 408v4M443.5 407v5M444.5 407v4M445.5 408v4M446.5 408v4M447.5 407v4M448.5 407v3M449.5 408v4M450.5 407v5M451.5 407v3M452.5 407v4M453.5 407v4M454.5 408v2M455.5 409v2M456.5 408v3M457.5 408v3M458.5 409v3M459.5 411v3M460.5 410v5M461.5 413v2M462.5 413v2M463.5 412v2M464.5 412v2M465.5 412v2M466.5 413v2M467.5 414v3M468.5 415v2M469.5 416v2M470.5 416v3M471.5 416v3M472.5 416v2M473.5 416v2M474.5 416v2M475.5 416v2M476.5 416v3M477.5 417v2M478.5 416v3M479.5 416v3M480.5 415v4M481.5 416v3M482.5 415v2M483.5 414v3M484.5 413v4M485.5 414v3M486.5 412v3M487.5 411v2M488.5 412v2M489.5 410v4M490.5 410v2M491.5 410v3M492.5 410v2M493.5 408v4M494.5 409v3M495.5 407v3M496.5 407v4M497.5 407v3M498.5 406v3M499.5 408v3M500.5 407v4M501.5 407v3M502.5 408v2M503.5 408v3M504.5 408v3M505.5 408v3M506.5 409v2M507.5 409v3M508.5 410v2M509.5 410v3M510.5 411v3M511.5 413v3M512.5 412v4M513.5 412v3M514.5 413v2M515.5 413v2M516.5 411v4M517.5 411v4M518.5 411v4M519.5 411v4M520.5 411v4M521.5 411v2M522.5 411v3M523.5 413v2M524.5 413v3M525.5 413v3M526.5 413v3M527.5 413v3M528.5 413v2M529.5 414v2M530.5 414v4M531.5 416v2M532.5 415v2M533.5 415v2M534.5 414v2M535.5 414v2M536.5 413v3M537.5 414v2M538.5 412v3M539.5 411v2M540.5 412v2M541.5 412v2M542.5 412v3M543.5 410v3M544.5 410v4M545.5 412v2M546.5 410v3M547.5 410v2M548.5 409v2M549.5 409v2M550.5 409v2M551.5 408v3M552.5 406v5M553.5 408v2M554.5 408v2M555.5 408v2M556.5 407v3M557.5 407v4M558.5 408v3M559.5 408v2M560.5 408v6M561.5 410v3M562.5 410v3M563.5 411v3M564.5 411v5M565.5 412v4M566.5 412v4M567.5 413v2M568.5 414v3M569.5 416v3M570.5 416v2M571.5 415v3M572.5 416v2M573.5 416v4M574.5 417v4M575.5 417v2M576.5 417v2M577.5 415v4M578.5 413v3M579.5 411v4" stroke="#1c0048" stroke-width="1" fill="none"/><rect x="2.5" y="384.5" width="645" height="59" fill="none" stroke="#000" stroke-width="1"/><path d="M9.5 385v2M17.5 385v2M25.5 385v2M33.5 385v2M41.5 385v6M49.5 385v2M57.5 385v2M65.5 385v2M73.5 385v2M81.5 385v4M89.5 385v2M97.5 385v2M105.5 385v2M113.5 385v2M121.5 385v6M129.5 385v2M137.5 385v2M145.5 385v2M153.5 385v2M161.5 385v4M169.5 385v2M177.5 385v2M185.5 385v2M193.5 385v2M201.5 385v6M209.5 385v2M217.5 385v2M225.5 385v2M233.5 385v2M241.5 385v4M249.5 385v2M257.5 385v2M265.5 385v2M274.5 385v2M282.5 385v6M290.5 385v2M298.5 385v2M306.5 385v2M314.5 385v2M322.5 385v4M330.5 385v2M338.5 385v2M346.5 385v2M354.5 385v2M362.5 385v6M370.5 385v2M378.5 385v2M386.5 385v2M394.5 385v2M402.5 385v4M410.5 385v2M418.5 385v2M426.5 385v2M434.5 385v2M442.5 385v8M450.5 385v2M458.5 385v2M466.5 385v2M474.5 385v2M482.5 385v4M490.5 385v2M498.5 385v2M506.5 385v2M514.5 385v2M522.5 385v6M530.5 385v2M538.5 385v2M546.5 385v2M554.5 385v2M562.5 385v4M570.5 385v2M578.5 385v2M586.5 385v2M594.5 385v2M602.5 385v6M610.5 385v2M618.5 385v2M626.5 385v2M634.5 385v2M642.5 385v4" stroke="#000" stroke-width="1"/><rect x="97" y="384" width="33" height="12" fill="#ff0000"/><text class="l" x="99" y="394">* Pd0</text><polyline points="116.5,395.5 125.5,402.2 145.5,407.5 175.5,410.5 193.0,412.2" stroke="#ff0000" stroke-width="1" fill="none" shape-rendering="crispEdges"/><path d="M184 404h3v14h-3zM185 403h1v1h-1zM185 418h1v1h-1z" fill="#ff0000" shape-rendering="crispEdges"/><path d="M182 397h3v1h-3z" fill="#ff0000" shape-rendering="crispEdges"/><text class="t" x="445" y="397">13:36</text><text class="t" x="12" y="442">UW STOR BHZ -- 46.5km</text></g>
<g><rect x="151" y="445" width="2" height="58" fill="#bfe6bf"/><rect x="220" y="445" width="4" height="58" fill="#bfe6bf"/><rect x="153" y="445" width="1" height="58" fill="#ff0000"/><path d="M73.5 473v3M74.5 473v2M75.5 473v3M76.5 474v2M77.5 474v2M78.5 473v3M79.5 474v2M80.5 474v2M81.5 473v3M82.5 474v2M83.5 474v2M84.5 473v3M85.5 474v2M86.5 473v2M87.5 473v3M88.5 473v3M89.5 473v3M90.5 473v3M91.5 473v3M92.5 474v2M93.5 474v2M94.5 474v2M95.5 473v3M96.5 473v3M97.5 474v2M98.5 473v3M99.5 474v2M100.5 474v2M101.5 474v2M102.5 473v2M103.5 474v2M104.5 473v3M105.5 473v3M106.5 474v2M107.5 474v2M108.5 473v3M109.5 474v2M110.5 474v2M111.5 473v3M112.5 473v3M113.5 474v2M114.5 473v3M115.5 473v3M116.5 473v2M117.5 474v2M118.5 474v2M119.5 474v2M120.5 474v2M121.5 474v2M122.5 473v2M123.5 473v3M124.5 473v2M125.5 473v2M126.5 473v3M127.5 474v2M128.5 474v2M129.5 473v3M130.5 474v2M131.5 473v3M132.5 473v3M133.5 473v3M134.5 473v2M135.5 473v3M136.5 473v3M137.5 474v2M138.5 473v3M139.5 474v2M140.5 473v2M141.5 473v2M142.5 474v2M143.5 474v2M144.5 473v3M145.5 473v2M146.5 473v3M147.5 473v3M148.5 474v2M149.5 474v2M150.5 474v2M151.5 474v2M152.5 474v2M153.5 474v2M154.5 445v58M155.5 445v58M156.5 455v45M157.5 451v42M158.5 460v34M159.5 460v35M160.5 460v30M161.5 463v28M162.5 464v22M163.5 465v30M164.5 465v26M165.5 457v28M166.5 466v26M167.5 466v32M168.5 460v29M169.5 468v26M170.5 459v27M171.5 468v30M172.5 465v21M173.5 462v36M174.5 467v15M175.5 463v34M176.5 467v20M177.5 468v21M178.5 469v13M179.5 463v19M180.5 464v18M181.5 465v19M182.5 464v24M183.5 462v25M184.5 463v21M185.5 468v19M186.5 468v16M187.5 465v27M188.5 460v26M189.5 467v14M190.5 466v15M191.5 469v18M192.5 469v17M193.5 469v14M194.5 470v11M195.5 464v26M196.5 465v15M197.5 464v21M198.5 467v15M199.5 464v26M200.5 466v23M201.5 468v13M202.5 468v15M203.5 462v18M204.5 470v14M205.5 469v12M206.5 468v12M207.5 465v19M208.5 463v19M209.5 466v22M210.5 467v18M211.5 468v13M212.5 469v17M213.5 470v18M214.5 466v22M215.5 468v21M216.5 469v11M217.5 465v23M218.5 468v16M219.5 464v31M220.5 450v49M221.5 450v43M222.5 451v47M223.5 456v37M224.5 456v40M225.5 450v45M226.5 456v38M227.5 453v44M228.5 454v41M229.5 462v25M230.5 461v20M231.5 467v14M232.5 465v20M233.5 461v29M234.5 459v24M235.5 467v14M236.5 466v19M237.5 453v28M238.5 467v25M239.5 465v25M240.5 461v30M241.5 465v18M242.5 461v31M243.5 455v26M244.5 465v28M245.5 464v18M246.5 464v20M247.5 458v24M248.5 453v33M249.5 462v24M250.5 464v24M251.5 459v23M252.5 461v24M253.5 467v14M254.5 467v14M255.5 465v26M256.5 460v23M257.5 452v39M258.5 463v21M259.5 465v16M260.5 465v16M261.5 453v39M262.5 464v24M263.5 462v31M264.5 453v33M265.5 468v13M266.5 464v21M267.5 467v14M268.5 463v17M269.5 461v27M270.5 467v20M271.5 466v26M272.5 457v23M273.5 455v31M274.5 458v27M275.5 459v24M276.5 461v19M277.5 458v22M278.5 464v22M279.5 457v27M280.5 465v23M281.5 468v16M282.5 467v14M283.5 468v13M284.5 468v14M285.5 463v24M286.5 460v22M287.5 469v12M288.5 460v22M289.5 464v25M290.5 462v22M291.5 466v15M292.5 469v12M293.5 461v19M294.5 469v13M295.5 465v22M296.5 468v12M297.5 464v16M298.5 465v16M299.5 467v20M300.5 469v10M301.5 470v16M302.5 467v13M303.5 470v12M304.5 466v13M305.5 469v15M306.5 462v24M307.5 463v19M308.5 469v10M309.5 462v18M310.5 469v13M311.5 464v16M312.5 469v10M313.5 466v14M314.5 470v14M315.5 469v9M316.5 465v16M317.5 471v13M318.5 468v13M319.5 470v13M320.5 471v7M321.5 471v13M322.5 470v13M323.5 471v7M324.5 471v12M325.5 469v9M326.5 466v12M327.5 471v8M328.5 471v8M329.5 470v8M330.5 471v8M331.5 470v11M332.5 471v8M333.5 468v9M334.5 469v9M335.5 471v6M336.5 471v8M337.5 471v10M338.5 472v6M339.5 469v8M340.5 472v6M341.5 472v5M342.5 472v9M343.5 468v9M344.5 470v7M345.5 468v10M346.5 470v10M347.5 469v8M348.5 471v6M349.5 470v10M350.5 469v8M351.5 472v5M352.5 469v9M353.5 470v7M354.5 470v7M355.5 472v5M356.5 470v7M357.5 472v5M358.5 471v7M359.5 469v8M360.5 471v6M361.5 470v8M362.5 471v6M363.5 469v8M364.5 471v8M365.5 472v5M366.5 472v5M367.5 472v6M368.5 471v7M369.5 473v4M370.5 472v5M371.5 472v5M372.5 470v6M373.5 469v8M374.5 472v6M375.5 470v8M376.5 473v4M377.5 472v5M378.5 473v6M379.5 473v3M380.5 473v5M381.5 473v4M382.5 472v4M383.5 472v5M384.5 473v5M385.5 471v6M386.5 471v8M387.5 472v5M388.5 473v4M389.5 472v6M390.5 472v4M391.5 473v3M392.5 473v3M393.5 471v7M394.5 472v4M395.5 473v5M396.5 473v3M397.5 473v3M398.5 473v3M399.5 473v3M400.5 472v4M401.5 471v6M402.5 473v3M403.5 473v4M404.5 471v5M405.5 472v4M406.5 473v3M407.5 473v4M408.5 471v6M409.5 471v5M410.5 473v3M411.5 471v5M412.5 473v3M413.5 472v5M414.5 472v4M415.5 473v3M416.5 471v6M417.5 473v3M418.5 472v5M419.5 473v3M420.5 473v3M421.5 473v3M422.5 473v4M423.5 473v3M424.5 473v4M425.5 473v3M426.5 472v5M427.5 473v3M428.5 473v4M429.5 473v3M430.5 473v3M431.5 473v3M432.5 472v4M433.5 473v3M434.5 472v4M435.5 473v3M436.5 473v3M437.5 472v4M438.5 473v3M439.5 473v4M440.5 472v4M441.5 473v3M442.5 473v3M443.5 472v4M444.5 473v3M445.5 473v3M446.5 473v3M447.5 472v5M448.5 473v3M449.5 473v4M450.5 473v3M451.5 473v3M452.5 472v4M453.5 473v3M454.5 473v3M455.5 472v4M456.5 473v3M457.5 473v4M458.5 473v3M459.5 473v3M460.5 473v3M461.5 473v3M462.5 473v3M463.5 473v3M464.5 473v4M465.5 473v3M466.5 473v4M467.5 473v3M468.5 473v3M469.5 473v3M470.5 473v3M471.5 473v3M472.5 473v3M473.5 473v3M474.5 473v3M475.5 473v3M476.5 473v3M477.5 473v3M478.5 473v3M479.5 473v3M480.5 473v3M481.5 473v3M482.5 473v3M483.5 473v4M484.5 473v3M485.5 472v4M486.5 473v3M487.5 473v4M488.5 473v3M489.5 473v4M490.5 472v5M491.5 473v3M492.5 473v3M493.5 473v3M494.5 473v3M495.5 473v3M496.5 473v4M497.5 473v3M498.5 473v3M499.5 473v3M500.5 473v3M501.5 473v4M502.5 473v3M503.5 472v4M504.5 472v4M505.5 473v3M506.5 473v3M507.5 473v3M508.5 473v4M509.5 473v3M510.5 473v4M511.5 473v4M512.5 473v3M513.5 473v3M514.5 473v3M515.5 473v3M516.5 473v3M517.5 473v3M518.5 473v3M519.5 473v3M520.5 473v3M521.5 473v3M522.5 473v4M523.5 472v4M524.5 472v4M525.5 473v3M526.5 473v3M527.5 473v3M528.5 473v3M529.5 473v3M530.5 473v2M531.5 473v3M532.5 473v2M533.5 474v2M534.5 473v4M535.5 473v3M536.5 473v3M537.5 474v2M538.5 473v3M539.5 473v3M540.5 474v2M541.5 473v3M542.5 473v3M543.5 474v2M544.5 472v4M545.5 473v3M546.5 473v2M547.5 473v3M548.5 473v4M549.5 473v3M550.5 473v3M551.5 473v2M552.5 473v2M553.5 473v3M554.5 473v2M555.5 474v2M556.5 473v3M557.5 473v3M558.5 474v2M559.5 473v3M560.5 474v2M561.5 473v3M562.5 474v2M563.5 473v3M564.5 473v3M565.5 473v3M566.5 473v3M567.5 473v3M568.5 474v2M569.5 473v3M570.5 474v2M571.5 474v2M572.5 473v3M573.5 473v3M574.5 473v3M575.5 474v2M576.5 473v3M577.5 473v2M578.5 473v2M579.5 474v2M580.5 473v2M581.5 473v3M582.5 473v2M583.5 474v2M584.5 474v2M585.5 474v2M586.5 473v3M587.5 473v2M588.5 473v3M589.5 473v3M590.5 473v3M591.5 473v3M592.5 473v3M593.5 474v2M594.5 473v3M595.5 473v2M596.5 473v3M597.5 474v2M598.5 474v2M599.5 474v2M600.5 473v2M601.5 473v3M602.5 474v2M603.5 474v2M604.5 474v2M605.5 473v3M606.5 473v2M607.5 474v2M608.5 474v2M609.5 474v2M610.5 473v3M611.5 473v3M612.5 473v3M613.5 473v2M614.5 473v3M615.5 473v3M616.5 473v3M617.5 474v2M618.5 474v2M619.5 473v3M620.5 473v3M621.5 473v3M622.5 474v2M623.5 473v2M624.5 474v2M625.5 473v3M626.5 473v2M627.5 473v2" stroke="#0000ff" stroke-width="1" fill="none"/><rect x="2.5" y="444.5" width="645" height="59" fill="none" stroke="#000" stroke-width="1"/><path d="M9.5 445v2M17.5 445v2M25.5 445v2M33.5 445v2M41.5 445v6M49.5 445v2M57.5 445v2M65.5 445v2M73.5 445v2M81.5 445v4M89.5 445v2M97.5 445v2M105.5 445v2M113.5 445v2M121.5 445v6M129.5 445v2M137.5 445v2M145.5 445v2M153.5 445v2M161.5 445v4M169.5 445v2M177.5 445v2M185.5 445v2M193.5 445v2M201.5 445v6M209.5 445v2M217.5 445v2M225.5 445v2M233.5 445v2M241.5 445v4M249.5 445v2M257.5 445v2M265.5 445v2M274.5 445v2M282.5 445v6M290.5 445v2M298.5 445v2M306.5 445v2M314.5 445v2M322.5 445v4M330.5 445v2M338.5 445v2M346.5 445v2M354.5 445v2M362.5 445v6M370.5 445v2M378.5 445v2M386.5 445v2M394.5 445v2M402.5 445v4M410.5 445v2M418.5 445v2M426.5 445v2M434.5 445v2M442.5 445v8M450.5 445v2M458.5 445v2M466.5 445v2M474.5 445v2M482.5 445v4M490.5 445v2M498.5 445v2M506.5 445v2M514.5 445v2M522.5 445v6M530.5 445v2M538.5 445v2M546.5 445v2M554.5 445v2M562.5 445v4M570.5 445v2M578.5 445v2M586.5 445v2M594.5 445v2M602.5 445v6M610.5 445v2M618.5 445v2M626.5 445v2M634.5 445v2M642.5 445v4" stroke="#000" stroke-width="1"/><rect x="121" y="444" width="33" height="12" fill="#ff0000"/><text class="l" x="123" y="454">* Pd0</text><polyline points="105.5,444.5 110.5,450.5 120.5,457.5 135.5,462.5 148.5,465.5" stroke="#000000" stroke-width="1" fill="none" shape-rendering="crispEdges"/><polyline points="148.5,465.5 200.5,470.2 240.5,472.0 289.2,473.5" stroke="#ff0000" stroke-width="1" fill="none" shape-rendering="crispEdges"/><path d="M279 465h3v15h-3zM280 464h1v1h-1zM280 480h1v1h-1z" fill="#ff0000" shape-rendering="crispEdges"/><path d="M277 458h3v1h-3z" fill="#ff0000" shape-rendering="crispEdges"/><text class="t" x="445" y="457">13:36</text><text class="t" x="12" y="502">UW JCW EHZ -- 68.1km</text></g>
<g><rect x="153" y="505" width="2" height="58" fill="#bfe6bf"/><rect x="225" y="505" width="4" height="58" fill="#bfe6bf"/><rect x="155" y="505" width="1" height="58" fill="#ff0000"/><path d="M75.5 533v3M76.5 535v2M77.5 535v4M78.5 534v2M79.5 535v2M80.5 532v5M81.5 534v2M82.5 534v4M83.5 534v4M84.5 534v5M85.5 533v5M86.5 534v3M87.5 534v2M88.5 535v3M89.5 535v2M90.5 534v3M91.5 534v5M92.5 532v4M93.5 532v5M94.5 534v5M95.5 533v4M96.5 533v5M97.5 533v4M98.5 533v3M99.5 534v4M100.5 533v5M101.5 533v3M102.5 534v4M103.5 535v2M104.5 535v2M105.5 534v3M106.5 533v4M107.5 535v4M108.5 531v9M109.5 535v3M110.5 532v4M111.5 535v2M112.5 530v7M113.5 533v5M114.5 532v5M115.5 533v3M116.5 530v6M117.5 531v5M118.5 531v7M119.5 534v3M120.5 532v8M121.5 531v9M122.5 532v8M123.5 533v3M124.5 534v3M125.5 534v2M126.5 534v3M127.5 534v2M128.5 534v2M129.5 535v3M130.5 535v2M131.5 534v3M132.5 533v5M133.5 534v3M134.5 534v3M135.5 534v4M136.5 535v3M137.5 534v2M138.5 532v4M139.5 535v2M140.5 532v6M141.5 532v5M142.5 533v4M143.5 534v3M144.5 534v4M145.5 535v3M146.5 534v4M147.5 532v6M148.5 534v3M149.5 535v2M150.5 534v3M151.5 532v4M152.5 533v5M153.5 534v3M154.5 532v4M155.5 533v4M156.5 521v28M157.5 529v11M158.5 530v12M159.5 522v21M160.5 522v18M161.5 523v23M162.5 531v11M163.5 528v16M164.5 531v9M165.5 528v12M166.5 530v10M167.5 531v10M168.5 529v20M169.5 531v9M170.5 531v13M171.5 528v19M172.5 523v17M173.5 522v19M174.5 529v11M175.5 527v13M176.5 529v11M177.5 522v19M178.5 531v9M179.5 530v17M180.5 531v11M181.5 530v10M182.5 527v22M183.5 527v14M184.5 528v12M185.5 531v9M186.5 524v21M187.5 528v17M188.5 526v19M189.5 531v12M190.5 524v17M191.5 523v18M192.5 523v17M193.5 530v12M194.5 525v17M195.5 531v17M196.5 527v13M197.5 529v11M198.5 530v19M199.5 527v19M200.5 530v10M201.5 530v19M202.5 522v28M203.5 529v12M204.5 531v12M205.5 528v13M206.5 522v18M207.5 529v15M208.5 526v22M209.5 529v15M210.5 526v18M211.5 527v19M212.5 528v16M213.5 531v10M214.5 526v14M215.5 528v14M216.5 527v17M217.5 522v21M218.5 530v15M219.5 522v23M220.5 531v9M221.5 529v13M222.5 525v16M223.5 531v19M224.5 530v12M225.5 528v19M226.5 509v34M227.5 520v32M228.5 524v21M229.5 524v18M230.5 514v40M231.5 527v24M232.5 526v19M233.5 527v23M234.5 527v28M235.5 516v36M236.5 525v18M237.5 508v42M238.5 522v22M239.5 526v17M240.5 526v32M241.5 527v15M242.5 527v19M243.5 515v29M244.5 514v28M245.5 515v29M246.5 527v15M247.5 523v21M248.5 524v31M249.5 520v23M250.5 527v15M251.5 526v16M252.5 527v16M253.5 511v38M254.5 527v28M255.5 518v31M256.5 523v22M257.5 520v23M258.5 527v17M259.5 522v27M260.5 528v25M261.5 518v29M262.5 512v32M263.5 527v16M264.5 529v13M265.5 529v16M266.5 522v20M267.5 529v21M268.5 526v17M269.5 530v21M270.5 530v11M271.5 523v18M272.5 530v12M273.5 528v13M274.5 530v10M275.5 523v24M276.5 521v29M277.5 530v14M278.5 525v16M279.5 530v10M280.5 526v17M281.5 525v17M282.5 530v21M283.5 529v12M284.5 529v13M285.5 530v14M286.5 531v16M287.5 530v17M288.5 530v12M289.5 521v20M290.5 524v19M291.5 531v9M292.5 531v14M293.5 531v18M294.5 529v12M295.5 527v18M296.5 526v16M297.5 531v10M298.5 530v18M299.5 531v9M300.5 530v11M301.5 529v12M302.5 529v11M303.5 526v15M304.5 528v17M305.5 522v23M306.5 522v18M307.5 531v10M308.5 530v13M309.5 529v15M310.5 523v18M311.5 522v24M312.5 531v10M313.5 531v10M314.5 530v12M315.5 529v13M316.5 531v13M317.5 531v9M318.5 528v14M319.5 528v14M320.5 525v22M321.5 530v9M322.5 526v21M323.5 527v16M324.5 531v16M325.5 532v7M326.5 527v18M327.5 532v8M328.5 526v13M329.5 529v13M330.5 531v8M331.5 530v9M332.5 531v11M333.5 527v12M334.5 532v9M335.5 529v12M336.5 532v9M337.5 530v9M338.5 532v7M339.5 525v14M340.5 532v9M341.5 530v12M342.5 530v12M343.5 532v7M344.5 528v11M345.5 531v8M346.5 532v7M347.5 528v11M348.5 532v10M349.5 532v9M350.5 529v10M351.5 529v10M352.5 530v9M353.5 528v11M354.5 531v7M355.5 527v12M356.5 527v16M357.5 533v12M358.5 532v7M359.5 531v8M360.5 531v9M361.5 530v9M362.5 527v11M363.5 529v10M364.5 533v5M365.5 530v11M366.5 533v8M367.5 532v8M368.5 528v13M369.5 530v10M370.5 531v12M371.5 532v11M372.5 530v10M373.5 530v9M374.5 533v7M375.5 532v6M376.5 531v9M377.5 529v11M378.5 533v5M379.5 533v9M380.5 533v8M381.5 532v8M382.5 533v7M383.5 530v8M384.5 532v6M385.5 530v12M386.5 530v9M387.5 530v8M388.5 529v9M389.5 533v5M390.5 530v9M391.5 531v7M392.5 533v8M393.5 533v9M394.5 532v6M395.5 532v6M396.5 533v8M397.5 530v11M398.5 534v5M399.5 533v5M400.5 534v4M401.5 533v7M402.5 532v7M403.5 533v5M404.5 531v10M405.5 530v8M406.5 530v9M407.5 531v8M408.5 533v6M409.5 532v8M410.5 532v8M411.5 531v8M412.5 534v4M413.5 534v4M414.5 531v8M415.5 533v4M416.5 534v5M417.5 532v6M418.5 533v7M419.5 532v6M420.5 532v8M421.5 532v6M422.5 534v4M423.5 533v5M424.5 534v4M425.5 533v6M426.5 532v8M427.5 531v8M428.5 533v5M429.5 534v4M430.5 534v4M431.5 532v8M432.5 533v4M433.5 533v6M434.5 531v7M435.5 531v9M436.5 532v7M437.5 533v5M438.5 531v7M439.5 534v3M440.5 533v5M441.5 531v6M442.5 534v4M443.5 533v5M444.5 533v4M445.5 533v5M446.5 534v3M447.5 534v5M448.5 531v10M449.5 534v5M450.5 533v6M451.5 530v8M452.5 531v8M453.5 533v6M454.5 532v8M455.5 534v4M456.5 531v6M457.5 533v4M458.5 534v3M459.5 533v5M460.5 533v7M461.5 533v7M462.5 532v5M463.5 533v6M464.5 534v4M465.5 532v6M466.5 533v5M467.5 534v3M468.5 532v8M469.5 532v6M470.5 533v5M471.5 531v7M472.5 532v8M473.5 531v8M474.5 533v6M475.5 530v7M476.5 532v8M477.5 533v4M478.5 533v4M479.5 533v5M480.5 534v4M481.5 533v5M482.5 531v8M483.5 534v5M484.5 532v6M485.5 533v6M486.5 533v4M487.5 534v4M488.5 534v4M489.5 533v5M490.5 534v6M491.5 532v8M492.5 533v5M493.5 531v6M494.5 532v7M495.5 534v4M496.5 532v6M497.5 532v7M498.5 534v5M499.5 533v5M500.5 534v6M501.5 532v7M502.5 533v6M503.5 534v6M504.5 531v7M505.5 533v4M506.5 533v4M507.5 533v4M508.5 533v5M509.5 534v4M510.5 532v7M511.5 533v4M512.5 532v6M513.5 532v8M514.5 533v6M515.5 534v4M516.5 534v4M517.5 534v4M518.5 532v5M519.5 531v6M520.5 533v4M521.5 534v3M522.5 532v8M523.5 532v6M524.5 531v7M525.5 532v5M526.5 534v4M527.5 533v4M528.5 533v4M529.5 533v5M530.5 534v3M531.5 531v8M532.5 534v6M533.5 531v8M534.5 534v5M535.5 533v4M536.5 533v4M537.5 532v7M538.5 532v5M539.5 534v4M540.5 534v4M541.5 533v7M542.5 533v7M543.5 531v8M544.5 533v5M545.5 534v4M546.5 534v4M547.5 534v3M548.5 533v6M549.5 532v6M550.5 533v4M551.5 532v7M552.5 533v5M553.5 534v3M554.5 533v5M555.5 533v5M556.5 532v7M557.5 532v6M558.5 534v4M559.5 533v4M560.5 534v4M561.5 534v6M562.5 532v6M563.5 532v8M564.5 533v8M565.5 530v8M566.5 531v9M567.5 533v5M568.5 534v4M569.5 533v6M570.5 534v3M571.5 534v4M572.5 533v6M573.5 534v3M574.5 532v6M575.5 534v4M576.5 534v5M577.5 534v4M578.5 534v3M579.5 534v5M580.5 533v5M581.5 534v3M582.5 533v6M583.5 533v7M584.5 534v3M585.5 533v5M586.5 534v4M587.5 533v5M588.5 532v6M589.5 534v5M590.5 533v5M591.5 534v4M592.5 534v4M593.5 534v3M594.5 534v4M595.5 534v3M596.5 533v4M597.5 533v4M598.5 533v4M599.5 533v5M600.5 532v6M601.5 534v5M602.5 532v7M603.5 533v4M604.5 534v4M605.5 532v5M606.5 532v5M607.5 533v4M608.5 532v5M609.5 534v3M610.5 532v5M611.5 534v3M612.5 532v5M613.5 532v5M614.5 532v7M615.5 534v4M616.5 534v3M617.5 533v6M618.5 534v3M619.5 534v3M620.5 534v3M621.5 534v3M622.5 532v7M623.5 532v5M624.5 534v3M625.5 532v6M626.5 534v4M627.5 534v4M628.5 533v4M629.5 534v4M630.5 534v3M631.5 532v6" stroke="#0000ff" stroke-width="1" fill="none"/><rect x="2.5" y="504.5" width="645" height="59" fill="none" stroke="#000" stroke-width="1"/><path d="M9.5 505v2M17.5 505v2M25.5 505v2M33.5 505v2M41.5 505v6M49.5 505v2M57.5 505v2M65.5 505v2M73.5 505v2M81.5 505v4M89.5 505v2M97.5 505v2M105.5 505v2M113.5 505v2M121.5 505v6M129.5 505v2M137.5 505v2M145.5 505v2M153.5 505v2M161.5 505v4M169.5 505v2M177.5 505v2M185.5 505v2M193.5 505v2M201.5 505v6M209.5 505v2M217.5 505v2M225.5 505v2M233.5 505v2M241.5 505v4M249.5 505v2M257.5 505v2M265.5 505v2M274.5 505v2M282.5 505v6M290.5 505v2M298.5 505v2M306.5 505v2M314.5 505v2M322.5 505v4M330.5 505v2M338.5 505v2M346.5 505v2M354.5 505v2M362.5 505v6M370.5 505v2M378.5 505v2M386.5 505v2M394.5 505v2M402.5 505v4M410.5 505v2M418.5 505v2M426.5 505v2M434.5 505v2M442.5 505v8M450.5 505v2M458.5 505v2M466.5 505v2M474.5 505v2M482.5 505v4M490.5 505v2M498.5 505v2M506.5 505v2M514.5 505v2M522.5 505v6M530.5 505v2M538.5 505v2M546.5 505v2M554.5 505v2M562.5 505v4M570.5 505v2M578.5 505v2M586.5 505v2M594.5 505v2M602.5 505v6M610.5 505v2M618.5 505v2M626.5 505v2M634.5 505v2M642.5 505v4" stroke="#000" stroke-width="1"/><rect x="123" y="504" width="33" height="12" fill="#ff0000"/><text class="l" x="125" y="514">* Pc2</text><polyline points="105.5,504.5 112.5,511.5 125.5,518.5 140.5,523.5 147.5,525.5" stroke="#000000" stroke-width="1" fill="none" shape-rendering="crispEdges"/><polyline points="147.5,525.5 200.5,530.5 240.5,532.5 289.2,533.5" stroke="#ff0000" stroke-width="1" fill="none" shape-rendering="crispEdges"/><path d="M279 526h3v15h-3zM280 525h1v1h-1zM280 541h1v1h-1z" fill="#ff0000" shape-rendering="crispEdges"/><path d="M277 519h3v1h-3z" fill="#ff0000" shape-rendering="crispEdges"/><text class="t" x="445" y="517">13:36</text><text class="t" x="12" y="562">UW GHW EHZ -- 70.1km</text></g>
<g><rect x="157" y="565" width="4" height="58" fill="#bfe6bf"/><rect x="230" y="565" width="4" height="58" fill="#bfe6bf"/><rect x="158" y="565" width="1" height="58" fill="#ff0000"/><path d="M80.5 591v2M81.5 591v2M82.5 591v2M83.5 591v2M84.5 591v2M85.5 591v2M86.5 591v2M87.5 591v2M88.5 591v2M89.5 591v2M90.5 591v2M91.5 591v2M92.5 591v2M93.5 591v2M94.5 591v2M95.5 591v2M96.5 591v2M97.5 591v2M98.5 591v2M99.5 591v2M100.5 591v2M101.5 591v2M102.5 591v2M103.5 591v2M104.5 591v2M105.5 591v2M106.5 591v2M107.5 591v2M108.5 591v2M109.5 591v2M110.5 591v2M111.5 591v2M112.5 591v2M113.5 591v2M114.5 591v2M115.5 591v2M116.5 591v2M117.5 591v2M118.5 591v2M119.5 591v2M120.5 591v2M121.5 591v2M122.5 591v2M123.5 591v2M124.5 591v2M125.5 591v2M126.5 591v2M127.5 591v2M128.5 591v2M129.5 591v2M130.5 591v2M131.5 591v2M132.5 591v2M133.5 591v2M134.5 591v2M135.5 591v2M136.5 591v2M137.5 591v2M138.5 591v2M139.5 591v2M140.5 591v2M141.5 591v2M142.5 591v2M143.5 591v2M144.5 591v2M145.5 591v2M146.5 591v2M147.5 591v2M148.5 591v2M149.5 591v2M150.5 591v2M151.5 591v2M152.5 591v2M153.5 591v2M154.5 591v2M155.5 591v2M156.5 591v2M157.5 591v2M158.5 591v2M159.5 584v12M160.5 582v16M161.5 565v58M162.5 566v57M163.5 584v13M164.5 580v16M165.5 584v11M166.5 585v10M167.5 585v9M168.5 582v16M169.5 583v13M170.5 585v10M171.5 584v12M172.5 585v9M173.5 584v10M174.5 586v10M175.5 587v10M176.5 585v8M177.5 586v11M178.5 584v10M179.5 588v6M180.5 587v6M181.5 587v8M182.5 584v10M183.5 586v7M184.5 588v6M185.5 584v10M186.5 586v9M187.5 586v7M188.5 585v9M189.5 585v11M190.5 588v5M191.5 587v6M192.5 586v7M193.5 588v8M194.5 588v5M195.5 587v8M196.5 588v8M197.5 587v8M198.5 587v6M199.5 587v9M200.5 588v5M201.5 588v5M202.5 587v6M203.5 588v5M204.5 587v8M205.5 588v7M206.5 585v8M207.5 588v5M208.5 585v8M209.5 588v5M210.5 587v7M211.5 588v8M212.5 586v9M213.5 588v8M214.5 586v8M215.5 587v6M216.5 587v6M217.5 586v10M218.5 588v6M219.5 586v7M220.5 588v5M221.5 588v6M222.5 588v5M223.5 588v7M224.5 588v5M225.5 588v6M226.5 588v5M227.5 588v5M228.5 587v7M229.5 588v8M230.5 586v7M231.5 585v10M232.5 587v6M233.5 585v9M234.5 586v7M235.5 586v8M236.5 583v12M237.5 588v8M238.5 587v7M239.5 585v8M240.5 584v10M241.5 586v11M242.5 583v13M243.5 583v12M244.5 586v7M245.5 586v7M246.5 588v6M247.5 586v10M248.5 586v9M249.5 585v10M250.5 586v8M251.5 588v7M252.5 587v7M253.5 586v9M254.5 585v8M255.5 585v9M256.5 588v7M257.5 588v6M258.5 587v6M259.5 586v7M260.5 586v9M261.5 586v7M262.5 587v9M263.5 586v10M264.5 587v6M265.5 587v6M266.5 588v6M267.5 588v6M268.5 588v8M269.5 586v9M270.5 587v6M271.5 585v8M272.5 586v8M273.5 587v7M274.5 588v5M275.5 588v5M276.5 588v5M277.5 588v5M278.5 588v6M279.5 588v7M280.5 588v8M281.5 585v9M282.5 588v7M283.5 587v7M284.5 588v8M285.5 588v8M286.5 587v8M287.5 587v8M288.5 586v8M289.5 588v6M290.5 588v6M291.5 587v6M292.5 588v7M293.5 585v8M294.5 587v6M295.5 586v9M296.5 588v5M297.5 588v7M298.5 588v6M299.5 586v7M300.5 587v6M301.5 586v8M302.5 588v5M303.5 588v5M304.5 587v5M305.5 588v7M306.5 588v6M307.5 585v8M308.5 589v6M309.5 587v8M310.5 585v8M311.5 586v6M312.5 586v6M313.5 588v5M314.5 587v6M315.5 588v5M316.5 586v9M317.5 588v4M318.5 587v6M319.5 586v7M320.5 589v4M321.5 589v5M322.5 589v4M323.5 586v7M324.5 588v5M325.5 588v6M326.5 586v7M327.5 589v4M328.5 589v5M329.5 586v7M330.5 589v3M331.5 588v4M332.5 589v5M333.5 587v5M334.5 588v5M335.5 589v4M336.5 589v3M337.5 587v6M338.5 588v4M339.5 587v6M340.5 589v5M341.5 589v3M342.5 587v6M343.5 589v4M344.5 589v4M345.5 589v3M346.5 588v5M347.5 589v4M348.5 587v5M349.5 587v6M350.5 588v4M351.5 589v3M352.5 588v6M353.5 587v5M354.5 588v5M355.5 588v4M356.5 589v3M357.5 589v5M358.5 589v3M359.5 588v5M360.5 588v4M361.5 589v4M362.5 589v5M363.5 588v4M364.5 588v4M365.5 588v4M366.5 589v3M367.5 589v3M368.5 588v4M369.5 589v3M370.5 589v4M371.5 589v4M372.5 589v4M373.5 589v3M374.5 589v4M375.5 589v3M376.5 589v3M377.5 589v4M378.5 589v3M379.5 589v3M380.5 589v4M381.5 589v3M382.5 589v3M383.5 588v4M384.5 589v3M385.5 589v3M386.5 589v3M387.5 589v3M388.5 589v3M389.5 589v3M390.5 589v3M391.5 589v3M392.5 589v3M393.5 589v3M394.5 589v2M395.5 589v3M396.5 589v3M397.5 589v3M398.5 589v3M399.5 590v2M400.5 589v3M401.5 590v2M402.5 589v2M403.5 590v2M404.5 590v2M405.5 590v2M406.5 589v3M407.5 589v3M408.5 590v2M409.5 589v3M410.5 590v2M411.5 589v2M412.5 590v2M413.5 590v2M414.5 590v2M415.5 590v2M416.5 589v2M417.5 590v2M418.5 589v2M419.5 589v2M420.5 590v2M421.5 590v2M422.5 590v2M423.5 590v2M424.5 589v2M425.5 590v2M426.5 590v2M427.5 589v2M428.5 590v2M429.5 590v2M430.5 590v2M431.5 590v2M432.5 590v2M433.5 590v2M434.5 590v2M435.5 590v2M436.5 590v2M437.5 590v2M438.5 590v2M439.5 590v2M440.5 590v2M441.5 590v2M442.5 590v2M443.5 590v2M444.5 590v2M445.5 590v2M446.5 590v2M447.5 590v2M448.5 590v2M449.5 590v2M450.5 590v2M451.5 590v2M452.5 590v2M453.5 590v2M454.5 590v2M455.5 590v2M456.5 590v2M457.5 590v2M458.5 590v2M459.5 590v2M460.5 590v2M461.5 590v2M462.5 590v2M463.5 590v2M464.5 590v2M465.5 590v2M466.5 590v2M467.5 590v2M468.5 590v2M469.5 590v2M470.5 590v2M471.5 590v2M472.5 590v2M473.5 590v2M474.5 590v2M475.5 590v2M476.5 590v2M477.5 590v2M478.5 590v2M479.5 590v2M480.5 590v2M481.5 590v2M482.5 590v2M483.5 590v2M484.5 590v2M485.5 590v2M486.5 590v2M487.5 590v2M488.5 590v2M489.5 590v2M490.5 590v2M491.5 590v2M492.5 590v2M493.5 590v2M494.5 590v2M495.5 590v2M496.5 590v2M497.5 590v2M498.5 590v2M499.5 590v2M500.5 590v2M501.5 590v2M502.5 590v2M503.5 590v2M504.5 590v2M505.5 590v2M506.5 590v2M507.5 590v2M508.5 590v2M509.5 590v2M510.5 590v2M511.5 590v2M512.5 590v2M513.5 590v2M514.5 590v2M515.5 590v2M516.5 590v2M517.5 590v2M518.5 590v2M519.5 590v2M520.5 590v2M521.5 590v2M522.5 590v2M523.5 590v2M524.5 590v2M525.5 590v2M526.5 590v2M527.5 590v2M528.5 590v2M529.5 590v2M530.5 590v2M531.5 590v2M532.5 590v2M533.5 590v2M534.5 590v2M535.5 590v2M536.5 590v2M537.5 590v2M538.5 590v2M539.5 590v2M540.5 590v2M541.5 590v2M542.5 590v2M543.5 590v2M544.5 590v2M545.5 590v2M546.5 590v2M547.5 590v2M548.5 590v2M549.5 590v2M550.5 590v2M551.5 590v2M552.5 590v2M553.5 590v2M554.5 590v2M555.5 590v2M556.5 590v2M557.5 590v2M558.5 590v2M559.5 590v2M560.5 590v2M561.5 590v2M562.5 590v2M563.5 590v2M564.5 590v2M565.5 590v2M566.5 590v2M567.5 590v2M568.5 590v2M569.5 590v2M570.5 590v2M571.5 590v2M572.5 590v2M573.5 590v2M574.5 590v2M575.5 590v2M576.5 590v2M577.5 590v2M578.5 590v2M579.5 590v2M580.5 590v2M581.5 590v2M582.5 590v2M583.5 590v2M584.5 590v2M585.5 590v2M586.5 590v2M587.5 590v2M588.5 590v2M589.5 590v2M590.5 590v2M591.5 590v2M592.5 590v2M593.5 590v2M594.5 590v2M595.5 590v2M596.5 590v2M597.5 590v2M598.5 590v2M599.5 590v2M600.5 590v2M601.5 590v2M602.5 590v2M603.5 590v2M604.5 590v2M605.5 590v2M606.5 590v2M607.5 590v2M608.5 590v2M609.5 590v2M610.5 590v2M611.5 590v2M612.5 590v2M613.5 590v2M614.5 590v2M615.5 590v2M616.5 590v2M617.5 590v2M618.5 590v2M619.5 590v2M620.5 590v2M621.5 590v2M622.5 590v2M623.5 590v2M624.5 590v2M625.5 590v2M626.5 590v2M627.5 590v2M628.5 590v2M629.5 590v2M630.5 590v2M631.5 590v2M632.5 590v2M633.5 590v2M634.5 590v2M635.5 590v2M636.5 590v2M637.5 590v2" stroke="#0000ff" stroke-width="1" fill="none"/><rect x="2.5" y="564.5" width="645" height="59" fill="none" stroke="#000" stroke-width="1"/><path d="M9.5 565v2M17.5 565v2M25.5 565v2M33.5 565v2M41.5 565v6M49.5 565v2M57.5 565v2M65.5 565v2M73.5 565v2M81.5 565v4M89.5 565v2M97.5 565v2M105.5 565v2M113.5 565v2M121.5 565v6M129.5 565v2M137.5 565v2M145.5 565v2M153.5 565v2M161.5 565v4M169.5 565v2M177.5 565v2M185.5 565v2M193.5 565v2M201.5 565v6M209.5 565v2M217.5 565v2M225.5 565v2M233.5 565v2M241.5 565v4M249.5 565v2M257.5 565v2M265.5 565v2M274.5 565v2M282.5 565v6M290.5 565v2M298.5 565v2M306.5 565v2M314.5 565v2M322.5 565v4M330.5 565v2M338.5 565v2M346.5 565v2M354.5 565v2M362.5 565v6M370.5 565v2M378.5 565v2M386.5 565v2M394.5 565v2M402.5 565v4M410.5 565v2M418.5 565v2M426.5 565v2M434.5 565v2M442.5 565v8M450.5 565v2M458.5 565v2M466.5 565v2M474.5 565v2M482.5 565v4M490.5 565v2M498.5 565v2M506.5 565v2M514.5 565v2M522.5 565v6M530.5 565v2M538.5 565v2M546.5 565v2M554.5 565v2M562.5 565v4M570.5 565v2M578.5 565v2M586.5 565v2M594.5 565v2M602.5 565v6M610.5 565v2M618.5 565v2M626.5 565v2M634.5 565v2M642.5 565v4" stroke="#000" stroke-width="1"/><rect x="126" y="564" width="33" height="12" fill="#ff0000"/><text class="l" x="128" y="574">* Pd1</text><text class="t" x="445" y="577">13:36</text><text class="t" x="12" y="622">UW FMW EHZ -- 72.7km</text></g>
<g><rect x="159" y="625" width="3" height="58" fill="#bfe6bf"/><rect x="232" y="625" width="4" height="58" fill="#bfe6bf"/><rect x="158" y="625" width="1" height="58" fill="#ff0000"/><path d="M80.5 650v8M81.5 653v2M82.5 650v5M83.5 653v5M84.5 653v2M85.5 654v2M86.5 651v6M87.5 650v5M88.5 653v3M89.5 654v2M90.5 654v2M91.5 650v7M92.5 652v4M93.5 654v4M94.5 650v5M95.5 653v4M96.5 650v5M97.5 651v7M98.5 652v6M99.5 653v4M100.5 651v5M101.5 651v6M102.5 653v4M103.5 654v3M104.5 651v6M105.5 651v6M106.5 651v4M107.5 654v3M108.5 654v3M109.5 652v7M110.5 653v3M111.5 654v2M112.5 652v4M113.5 653v4M114.5 653v5M115.5 651v5M116.5 653v2M117.5 651v7M118.5 650v6M119.5 653v3M120.5 653v4M121.5 653v5M122.5 653v2M123.5 651v4M124.5 652v4M125.5 654v2M126.5 654v4M127.5 654v2M128.5 653v4M129.5 651v8M130.5 654v2M131.5 654v2M132.5 654v2M133.5 652v5M134.5 651v5M135.5 651v4M136.5 652v3M137.5 652v6M138.5 652v6M139.5 650v6M140.5 654v3M141.5 652v5M142.5 651v8M143.5 652v6M144.5 651v7M145.5 653v3M146.5 651v5M147.5 651v4M148.5 654v2M149.5 654v2M150.5 652v6M151.5 650v6M152.5 654v2M153.5 653v4M154.5 652v6M155.5 653v3M156.5 651v4M157.5 650v7M158.5 654v3M159.5 648v10M160.5 649v10M161.5 649v11M162.5 651v10M163.5 642v26M164.5 650v8M165.5 645v22M166.5 651v7M167.5 643v15M168.5 651v7M169.5 647v12M170.5 648v10M171.5 651v9M172.5 651v10M173.5 650v10M174.5 651v8M175.5 648v13M176.5 648v18M177.5 646v19M178.5 651v8M179.5 651v19M180.5 651v8M181.5 651v7M182.5 650v15M183.5 650v13M184.5 651v12M185.5 642v16M186.5 646v14M187.5 651v7M188.5 651v10M189.5 649v9M190.5 651v15M191.5 643v15M192.5 642v18M193.5 651v9M194.5 650v12M195.5 647v19M196.5 650v14M197.5 651v7M198.5 651v16M199.5 647v19M200.5 650v12M201.5 641v24M202.5 643v21M203.5 645v15M204.5 644v19M205.5 646v14M206.5 651v8M207.5 651v8M208.5 648v11M209.5 647v12M210.5 649v12M211.5 641v21M212.5 646v23M213.5 648v16M214.5 650v8M215.5 650v8M216.5 643v18M217.5 642v19M218.5 648v17M219.5 648v16M220.5 643v15M221.5 651v10M222.5 651v19M223.5 648v15M224.5 650v14M225.5 650v16M226.5 650v10M227.5 650v18M228.5 637v32M229.5 631v46M230.5 634v29M231.5 629v32M232.5 629v42M233.5 627v47M234.5 648v20M235.5 647v14M236.5 648v16M237.5 645v17M238.5 645v28M239.5 627v53M240.5 647v16M241.5 636v32M242.5 647v22M243.5 642v26M244.5 648v14M245.5 631v45M246.5 640v22M247.5 642v19M248.5 648v13M249.5 643v25M250.5 645v16M251.5 638v36M252.5 644v29M253.5 637v24M254.5 647v26M255.5 641v40M256.5 644v27M257.5 646v17M258.5 633v28M259.5 643v21M260.5 647v25M261.5 648v20M262.5 647v23M263.5 647v14M264.5 639v23M265.5 640v26M266.5 631v46M267.5 637v25M268.5 646v32M269.5 648v14M270.5 647v16M271.5 648v17M272.5 644v29M273.5 648v23M274.5 648v13M275.5 644v21M276.5 642v30M277.5 644v27M278.5 648v22M279.5 648v19M280.5 639v28M281.5 648v23M282.5 638v24M283.5 631v37M284.5 644v25M285.5 633v30M286.5 642v31M287.5 636v39M288.5 642v24M289.5 637v26M290.5 648v21M291.5 647v14M292.5 646v15M293.5 649v12M294.5 642v28M295.5 649v14M296.5 634v26M297.5 648v13M298.5 640v25M299.5 648v13M300.5 639v22M301.5 638v25M302.5 635v40M303.5 645v32M304.5 648v12M305.5 638v24M306.5 645v16M307.5 643v18M308.5 646v15M309.5 641v24M310.5 649v12M311.5 637v26M312.5 632v29M313.5 649v20M314.5 639v32M315.5 649v13M316.5 649v13M317.5 634v30M318.5 648v21M319.5 636v24M320.5 649v14M321.5 649v21M322.5 649v11M323.5 647v19M324.5 643v17M325.5 647v27M326.5 644v15M327.5 643v17M328.5 648v11M329.5 641v19M330.5 649v12M331.5 649v11M332.5 644v16M333.5 643v17M334.5 646v20M335.5 641v18M336.5 650v14M337.5 650v10M338.5 646v13M339.5 650v9M340.5 650v20M341.5 648v16M342.5 642v18M343.5 649v10M344.5 645v27M345.5 646v17M346.5 649v11M347.5 650v10M348.5 643v23M349.5 650v15M350.5 648v11M351.5 651v13M352.5 648v15M353.5 651v17M354.5 651v7M355.5 648v15M356.5 642v17M357.5 651v17M358.5 643v17M359.5 649v9M360.5 641v23M361.5 651v13M362.5 644v14M363.5 645v13M364.5 651v7M365.5 642v24M366.5 651v10M367.5 651v9M368.5 652v6M369.5 652v6M370.5 652v7M371.5 650v8M372.5 652v8M373.5 645v14M374.5 651v8M375.5 648v13M376.5 645v17M377.5 651v7M378.5 647v11M379.5 651v11M380.5 652v8M381.5 649v9M382.5 652v6M383.5 652v6M384.5 652v5M385.5 651v6M386.5 652v5M387.5 648v14M388.5 648v9M389.5 652v7M390.5 648v9M391.5 652v6M392.5 652v5M393.5 652v5M394.5 649v8M395.5 651v6M396.5 648v9M397.5 648v14M398.5 652v5M399.5 648v9M400.5 652v5M401.5 649v13M402.5 651v6M403.5 652v5M404.5 652v9M405.5 650v7M406.5 648v9M407.5 652v5M408.5 652v5M409.5 651v8M410.5 651v9M411.5 652v5M412.5 651v6M413.5 653v8M414.5 652v5M415.5 651v6M416.5 650v6M417.5 650v6M418.5 652v4M419.5 648v8M420.5 650v7M421.5 652v4M422.5 651v6M423.5 650v7M424.5 650v8M425.5 649v7M426.5 653v5M427.5 652v7M428.5 650v6M429.5 653v4M430.5 653v5M431.5 652v8M432.5 653v3M433.5 652v5M434.5 650v6M435.5 652v5M436.5 653v3M437.5 653v4M438.5 652v4M439.5 653v6M440.5 653v3M441.5 650v9M442.5 652v5M443.5 648v8M444.5 650v11M445.5 652v6M446.5 653v7M447.5 652v5M448.5 653v3M449.5 650v8M450.5 653v4M451.5 652v8M452.5 652v9M453.5 653v4M454.5 653v4M455.5 650v7M456.5 652v5M457.5 652v7M458.5 652v4M459.5 653v3M460.5 652v5M461.5 648v10M462.5 653v4M463.5 651v6M464.5 653v3M465.5 652v8M466.5 653v4M467.5 649v8M468.5 651v9M469.5 652v5M470.5 649v8M471.5 652v4M472.5 653v3M473.5 652v4M474.5 652v5M475.5 651v5M476.5 651v5M477.5 653v5M478.5 652v7M479.5 653v4M480.5 653v3M481.5 652v7M482.5 653v5M483.5 653v5M484.5 649v10M485.5 651v5M486.5 652v4M487.5 652v5M488.5 653v4M489.5 653v5M490.5 653v4M491.5 653v4M492.5 652v6M493.5 652v5M494.5 652v4M495.5 652v5M496.5 653v3M497.5 650v7M498.5 651v5M499.5 651v9M500.5 652v8M501.5 651v7M502.5 652v4M503.5 650v7M504.5 653v3M505.5 653v4M506.5 653v3M507.5 651v5M508.5 652v5M509.5 652v6M510.5 651v6M511.5 649v7M512.5 650v6M513.5 651v7M514.5 650v7M515.5 652v5M516.5 653v5M517.5 653v3M518.5 653v4M519.5 653v3M520.5 651v5M521.5 651v6M522.5 650v9M523.5 651v6M524.5 652v6M525.5 651v5M526.5 651v8M527.5 652v5M528.5 652v7M529.5 653v4M530.5 653v3M531.5 652v8M532.5 653v5M533.5 651v6M534.5 649v7M535.5 653v3M536.5 651v9M537.5 652v4M538.5 652v5M539.5 650v9M540.5 652v5M541.5 649v8M542.5 652v7M543.5 653v3M544.5 653v4M545.5 653v3M546.5 653v4M547.5 653v4M548.5 653v3M549.5 650v6M550.5 653v4M551.5 653v6M552.5 652v7M553.5 653v4M554.5 652v4M555.5 650v10M556.5 650v8M557.5 653v3M558.5 653v3M559.5 653v4M560.5 653v7M561.5 652v7M562.5 651v6M563.5 650v8M564.5 653v7M565.5 651v5M566.5 653v4M567.5 652v4M568.5 650v6M569.5 653v3M570.5 653v3M571.5 651v5M572.5 652v6M573.5 653v3M574.5 652v4M575.5 652v4M576.5 649v7M577.5 653v5M578.5 649v8M579.5 653v4M580.5 653v3M581.5 649v7M582.5 653v7M583.5 652v4M584.5 653v4M585.5 650v7M586.5 652v4M587.5 651v6M588.5 652v4M589.5 652v5M590.5 653v4M591.5 652v5M592.5 653v4M593.5 651v5M594.5 649v8M595.5 653v7M596.5 653v6M597.5 650v9M598.5 652v8M599.5 650v8M600.5 651v6M601.5 650v6M602.5 652v4M603.5 651v6M604.5 651v8M605.5 652v7M606.5 653v3M607.5 653v3M608.5 651v5M609.5 653v5M610.5 650v6M611.5 653v4M612.5 651v5M613.5 653v3M614.5 653v4M615.5 652v5M616.5 653v4M617.5 653v3M618.5 652v4M619.5 650v7M620.5 653v3M621.5 653v4M622.5 651v5M623.5 653v5M624.5 652v4M625.5 653v5M626.5 651v6M627.5 651v5M628.5 652v4M629.5 653v3M630.5 651v5M631.5 652v4M632.5 653v5M633.5 653v3M634.5 652v4M635.5 653v5M636.5 653v3M637.5 652v4M638.5 651v5M639.5 653v3M640.5 653v4" stroke="#0000ff" stroke-width="1" fill="none"/><rect x="2.5" y="624.5" width="645" height="59" fill="none" stroke="#000" stroke-width="1"/><path d="M9.5 625v2M17.5 625v2M25.5 625v2M33.5 625v2M41.5 625v6M49.5 625v2M57.5 625v2M65.5 625v2M73.5 625v2M81.5 625v4M89.5 625v2M97.5 625v2M105.5 625v2M113.5 625v2M121.5 625v6M129.5 625v2M137.5 625v2M145.5 625v2M153.5 625v2M161.5 625v4M169.5 625v2M177.5 625v2M185.5 625v2M193.5 625v2M201.5 625v6M209.5 625v2M217.5 625v2M225.5 625v2M233.5 625v2M241.5 625v4M249.5 625v2M257.5 625v2M265.5 625v2M274.5 625v2M282.5 625v6M290.5 625v2M298.5 625v2M306.5 625v2M314.5 625v2M322.5 625v4M330.5 625v2M338.5 625v2M346.5 625v2M354.5 625v2M362.5 625v6M370.5 625v2M378.5 625v2M386.5 625v2M394.5 625v2M402.5 625v4M410.5 625v2M418.5 625v2M426.5 625v2M434.5 625v2M442.5 625v8M450.5 625v2M458.5 625v2M466.5 625v2M474.5 625v2M482.5 625v4M490.5 625v2M498.5 625v2M506.5 625v2M514.5 625v2M522.5 625v6M530.5 625v2M538.5 625v2M546.5 625v2M554.5 625v2M562.5 625v4M570.5 625v2M578.5 625v2M586.5 625v2M594.5 625v2M602.5 625v6M610.5 625v2M618.5 625v2M626.5 625v2M634.5 625v2M642.5 625v4" stroke="#000" stroke-width="1"/><rect x="126" y="624" width="33" height="12" fill="#ff0000"/><text class="l" x="128" y="634">* P.3</text><text class="t" x="445" y="637">13:36</text><text class="t" x="12" y="682">PB B941 EHZ -- 73.6km</text></g>
<g><rect x="160" y="685" width="4" height="58" fill="#bfe6bf"/><rect x="236" y="685" width="4" height="58" fill="#bfe6bf"/><rect x="164" y="685" width="1" height="58" fill="#ff0000"/><path d="M82.5 713v3M83.5 714v4M84.5 715v2M85.5 713v5M86.5 712v5M87.5 714v5M88.5 714v5M89.5 713v4M90.5 712v6M91.5 714v3M92.5 714v2M93.5 712v6M94.5 712v5M95.5 714v2M96.5 714v5M97.5 714v3M98.5 714v4M99.5 715v2M100.5 713v3M101.5 714v4M102.5 713v6M103.5 715v2M104.5 715v3M105.5 715v2M106.5 715v2M107.5 715v2M108.5 712v5M109.5 715v2M110.5 713v3M111.5 713v5M112.5 714v4M113.5 713v5M114.5 714v4M115.5 713v4M116.5 714v3M117.5 715v2M118.5 715v3M119.5 712v5M120.5 713v6M121.5 714v4M122.5 714v4M123.5 714v2M124.5 714v3M125.5 713v3M126.5 715v4M127.5 715v3M128.5 713v4M129.5 714v2M130.5 713v3M131.5 715v2M132.5 715v2M133.5 715v2M134.5 714v4M135.5 715v3M136.5 714v3M137.5 713v4M138.5 714v4M139.5 714v3M140.5 715v4M141.5 713v5M142.5 713v4M143.5 714v4M144.5 715v2M145.5 715v2M146.5 715v2M147.5 714v5M148.5 713v6M149.5 714v5M150.5 715v3M151.5 714v3M152.5 715v2M153.5 712v6M154.5 714v3M155.5 714v4M156.5 714v3M157.5 713v5M158.5 714v4M159.5 714v2M160.5 714v3M161.5 714v3M162.5 714v5M163.5 715v2M164.5 713v5M165.5 706v19M166.5 708v14M167.5 696v27M168.5 707v15M169.5 709v14M170.5 708v25M171.5 708v19M172.5 706v21M173.5 703v19M174.5 700v36M175.5 709v15M176.5 699v24M177.5 704v24M178.5 706v30M179.5 696v28M180.5 707v23M181.5 708v18M182.5 706v23M183.5 702v22M184.5 709v26M185.5 707v30M186.5 708v26M187.5 707v17M188.5 708v15M189.5 707v16M190.5 698v27M191.5 703v35M192.5 708v27M193.5 695v33M194.5 708v29M195.5 704v30M196.5 704v34M197.5 703v21M198.5 697v33M199.5 708v20M200.5 706v18M201.5 704v25M202.5 695v34M203.5 696v30M204.5 708v27M205.5 702v40M206.5 705v30M207.5 704v31M208.5 695v36M209.5 706v18M210.5 707v35M211.5 702v22M212.5 703v22M213.5 694v48M214.5 705v27M215.5 702v31M216.5 695v39M217.5 697v30M218.5 707v24M219.5 707v21M220.5 705v25M221.5 702v41M222.5 705v34M223.5 690v34M224.5 690v42M225.5 706v19M226.5 706v19M227.5 694v39M228.5 695v33M229.5 705v20M230.5 691v42M231.5 706v19M232.5 706v23M233.5 688v41M234.5 702v34M235.5 686v53M236.5 699v26M237.5 702v23M238.5 703v22M239.5 704v39M240.5 701v27M241.5 705v38M242.5 698v35M243.5 701v24M244.5 699v26M245.5 695v34M246.5 706v19M247.5 699v35M248.5 706v37M249.5 689v36M250.5 700v26M251.5 705v20M252.5 705v38M253.5 697v31M254.5 692v33M255.5 703v36M256.5 706v35M257.5 695v30M258.5 705v23M259.5 692v38M260.5 706v20M261.5 690v34M262.5 691v33M263.5 707v29M264.5 701v22M265.5 709v17M266.5 699v25M267.5 707v27M268.5 695v27M269.5 703v29M270.5 701v24M271.5 709v13M272.5 697v31M273.5 698v26M274.5 704v24M275.5 699v23M276.5 703v26M277.5 708v15M278.5 709v23M279.5 708v15M280.5 709v13M281.5 709v17M282.5 709v15M283.5 708v15M284.5 708v14M285.5 709v23M286.5 697v33M287.5 709v13M288.5 704v24M289.5 702v23M290.5 709v24M291.5 710v11M292.5 708v16M293.5 709v15M294.5 709v12M295.5 710v11M296.5 710v17M297.5 704v28M298.5 708v15M299.5 701v20M300.5 705v28M301.5 701v31M302.5 706v20M303.5 702v23M304.5 708v17M305.5 700v27M306.5 705v16M307.5 708v18M308.5 710v11M309.5 710v14M310.5 709v12M311.5 709v13M312.5 706v15M313.5 708v17M314.5 701v19M315.5 711v18M316.5 710v15M317.5 709v15M318.5 707v17M319.5 708v16M320.5 709v13M321.5 711v16M322.5 704v16M323.5 708v12M324.5 706v15M325.5 711v17M326.5 708v15M327.5 709v15M328.5 711v16M329.5 710v11M330.5 705v19M331.5 709v11M332.5 710v14M333.5 711v10M334.5 710v13M335.5 711v9M336.5 711v16M337.5 711v9M338.5 709v16M339.5 704v21M340.5 708v12M341.5 712v15M342.5 710v12M343.5 708v11M344.5 711v11M345.5 706v16M346.5 707v13M347.5 707v20M348.5 710v10M349.5 711v15M350.5 711v12M351.5 712v8M352.5 707v13M353.5 708v18M354.5 709v10M355.5 708v15M356.5 712v12M357.5 710v16M358.5 710v12M359.5 711v9M360.5 709v10M361.5 707v14M362.5 712v7M363.5 712v7M364.5 707v16M365.5 709v10M366.5 712v9M367.5 711v10M368.5 711v12M369.5 709v12M370.5 709v10M371.5 708v12M372.5 711v10M373.5 711v8M374.5 710v11M375.5 711v8M376.5 711v8M377.5 712v9M378.5 712v7M379.5 710v9M380.5 711v8M381.5 710v9M382.5 712v7M383.5 708v11M384.5 712v7M385.5 712v7M386.5 711v8M387.5 711v10M388.5 712v11M389.5 711v12M390.5 711v8M391.5 712v7M392.5 711v8M393.5 709v12M394.5 709v11M395.5 708v10M396.5 708v11M397.5 713v10M398.5 713v5M399.5 710v13M400.5 713v10M401.5 709v14M402.5 710v11M403.5 707v11M404.5 711v9M405.5 711v8M406.5 713v6M407.5 712v6M408.5 708v12M409.5 712v11M410.5 709v11M411.5 712v11M412.5 709v13M413.5 712v10M414.5 711v9M415.5 711v7M416.5 713v7M417.5 712v9M418.5 713v10M419.5 712v9M420.5 711v11M421.5 712v6M422.5 712v8M423.5 712v7M424.5 713v9M425.5 712v10M426.5 708v13M427.5 712v9M428.5 713v7M429.5 712v9M430.5 709v9M431.5 711v8M432.5 713v8M433.5 712v6M434.5 712v10M435.5 712v9M436.5 713v6M437.5 708v10M438.5 713v5M439.5 713v10M440.5 710v9M441.5 710v8M442.5 713v7M443.5 713v6M444.5 713v7M445.5 710v8M446.5 712v9M447.5 710v8M448.5 712v8M449.5 711v9M450.5 713v9M451.5 713v5M452.5 710v8M453.5 713v6M454.5 713v5M455.5 710v8M456.5 709v9M457.5 709v13M458.5 712v9M459.5 713v5M460.5 712v7M461.5 712v6M462.5 713v6M463.5 713v6M464.5 711v7M465.5 713v5M466.5 711v8M467.5 713v8M468.5 710v10M469.5 710v8M470.5 710v12M471.5 713v5M472.5 713v5M473.5 713v7M474.5 712v10M475.5 713v5M476.5 713v5M477.5 713v6M478.5 713v8M479.5 713v5M480.5 712v8M481.5 713v5M482.5 712v7M483.5 711v9M484.5 713v5M485.5 712v6M486.5 713v5M487.5 710v11M488.5 713v8M489.5 712v8M490.5 712v6M491.5 710v8M492.5 711v9M493.5 711v7M494.5 713v5M495.5 713v7M496.5 710v12M497.5 713v5M498.5 713v7M499.5 713v5M500.5 711v8M501.5 713v7M502.5 713v5M503.5 713v6M504.5 713v6M505.5 713v7M506.5 711v7M507.5 713v5M508.5 713v5M509.5 713v5M510.5 712v7M511.5 713v7M512.5 712v6M513.5 713v7M514.5 712v6M515.5 712v6M516.5 711v7M517.5 713v5M518.5 713v8M519.5 713v5M520.5 713v5M521.5 713v7M522.5 712v6M523.5 713v5M524.5 712v6M525.5 711v9M526.5 713v4M527.5 711v8M528.5 712v6M529.5 714v3M530.5 714v4M531.5 711v7M532.5 712v6M533.5 711v10M534.5 713v5M535.5 713v6M536.5 713v7M537.5 711v7M538.5 714v4M539.5 713v5M540.5 711v9M541.5 711v7M542.5 712v6M543.5 713v5M544.5 711v8M545.5 712v7M546.5 713v7M547.5 713v5M548.5 713v5M549.5 713v5M550.5 712v6M551.5 713v5M552.5 714v6M553.5 711v6M554.5 713v6M555.5 713v7M556.5 714v3M557.5 713v6M558.5 712v6M559.5 714v3M560.5 711v7M561.5 711v7M562.5 711v6M563.5 714v4M564.5 711v8M565.5 713v6M566.5 711v7M567.5 714v4M568.5 712v7M569.5 713v5M570.5 713v5M571.5 712v6M572.5 713v4M573.5 713v4M574.5 711v6M575.5 711v6M576.5 713v7M577.5 713v6M578.5 713v6M579.5 713v5M580.5 712v5M581.5 713v4M582.5 714v5M583.5 713v7M584.5 713v4M585.5 714v4M586.5 712v8M587.5 712v5M588.5 713v4M589.5 713v6M590.5 711v6M591.5 712v6M592.5 713v4M593.5 713v4M594.5 711v6M595.5 713v4M596.5 713v4M597.5 714v3M598.5 711v7M599.5 711v7M600.5 711v8M601.5 712v5M602.5 714v4M603.5 714v3M604.5 712v6M605.5 713v4M606.5 712v6M607.5 711v7M608.5 712v8M609.5 713v6M610.5 714v6M611.5 713v7M612.5 713v6M613.5 713v5M614.5 714v5M615.5 713v6M616.5 711v8M617.5 712v6M618.5 714v6M619.5 714v3M620.5 713v4M621.5 712v7M622.5 713v5M623.5 714v5M624.5 714v4M625.5 712v7M626.5 713v7M627.5 712v6M628.5 713v5M629.5 712v6M630.5 711v6M631.5 711v6M632.5 714v4M633.5 712v8M634.5 714v4M635.5 713v5M636.5 713v4M637.5 714v3M638.5 712v6M639.5 714v3M640.5 713v4M641.5 711v7M642.5 714v5" stroke="#0000ff" stroke-width="1" fill="none"/><rect x="2.5" y="684.5" width="645" height="59" fill="none" stroke="#000" stroke-width="1"/><path d="M9.5 685v2M17.5 685v2M25.5 685v2M33.5 685v2M41.5 685v6M49.5 685v2M57.5 685v2M65.5 685v2M73.5 685v2M81.5 685v4M89.5 685v2M97.5 685v2M105.5 685v2M113.5 685v2M121.5 685v6M129.5 685v2M137.5 685v2M145.5 685v2M153.5 685v2M161.5 685v4M169.5 685v2M177.5 685v2M185.5 685v2M193.5 685v2M201.5 685v6M209.5 685v2M217.5 685v2M225.5 685v2M233.5 685v2M241.5 685v4M249.5 685v2M257.5 685v2M265.5 685v2M274.5 685v2M282.5 685v6M290.5 685v2M298.5 685v2M306.5 685v2M314.5 685v2M322.5 685v4M330.5 685v2M338.5 685v2M346.5 685v2M354.5 685v2M362.5 685v6M370.5 685v2M378.5 685v2M386.5 685v2M394.5 685v2M402.5 685v4M410.5 685v2M418.5 685v2M426.5 685v2M434.5 685v2M442.5 685v8M450.5 685v2M458.5 685v2M466.5 685v2M474.5 685v2M482.5 685v4M490.5 685v2M498.5 685v2M506.5 685v2M514.5 685v2M522.5 685v6M530.5 685v2M538.5 685v2M546.5 685v2M554.5 685v2M562.5 685v4M570.5 685v2M578.5 685v2M586.5 685v2M594.5 685v2M602.5 685v6M610.5 685v2M618.5 685v2M626.5 685v2M634.5 685v2M642.5 685v4" stroke="#000" stroke-width="1"/><rect x="132" y="684" width="33" height="12" fill="#ff0000"/><text class="l" x="134" y="694">* Pc1</text><text class="t" x="445" y="697">13:36</text><text class="t" x="12" y="742">UW WRW EHZ -- 75.5km</text></g>
<g><rect x="161" y="745" width="3" height="58" fill="#bfe6bf"/><rect x="239" y="745" width="4" height="58" fill="#bfe6bf"/><rect x="163" y="745" width="1" height="58" fill="#ff0000"/><path d="M83.5 776v2M84.5 776v2M85.5 776v2M86.5 777v2M87.5 777v2M88.5 778v2M89.5 778v2M90.5 778v3M91.5 779v2M92.5 779v2M93.5 779v2M94.5 779v3M95.5 780v2M96.5 780v2M97.5 778v3M98.5 778v2M99.5 777v2M100.5 777v2M101.5 777v2M102.5 776v2M103.5 776v2M104.5 775v2M105.5 775v2M106.5 775v2M107.5 775v2M108.5 774v2M109.5 775v2M110.5 775v2M111.5 775v2M112.5 776v2M113.5 776v3M114.5 777v3M115.5 778v3M116.5 779v3M117.5 781v2M118.5 782v2M119.5 783v2M120.5 784v2M121.5 784v3M122.5 784v2M123.5 784v2M124.5 784v2M125.5 783v2M126.5 781v3M127.5 780v3M128.5 779v3M129.5 778v2M130.5 777v2M131.5 775v3M132.5 774v2M133.5 772v3M134.5 771v3M135.5 770v2M136.5 769v2M137.5 768v2M138.5 768v2M139.5 768v2M140.5 767v2M141.5 768v2M142.5 768v2M143.5 769v3M144.5 770v3M145.5 771v3M146.5 772v4M147.5 774v4M148.5 776v3M149.5 778v4M150.5 780v3M151.5 781v4M152.5 783v3M153.5 785v3M154.5 786v3M155.5 787v3M156.5 788v2M157.5 788v2M158.5 787v2M159.5 786v3M160.5 785v2M161.5 784v2M162.5 783v2M163.5 781v3M164.5 776v11M165.5 776v6M166.5 773v13M167.5 767v12M168.5 764v12M169.5 768v6M170.5 766v7M171.5 763v10M172.5 763v14M173.5 762v14M174.5 761v12M175.5 763v12M176.5 762v12M177.5 766v10M178.5 767v10M179.5 763v13M180.5 770v10M181.5 766v20M182.5 768v13M183.5 774v10M184.5 771v15M185.5 772v12M186.5 775v9M187.5 776v8M188.5 770v16M189.5 775v9M190.5 774v11M191.5 775v11M192.5 767v18M193.5 769v20M194.5 765v23M195.5 770v17M196.5 767v18M197.5 764v20M198.5 770v16M199.5 762v24M200.5 763v21M201.5 763v24M202.5 760v24M203.5 770v12M204.5 767v22M205.5 768v19M206.5 761v20M207.5 767v17M208.5 767v19M209.5 764v17M210.5 762v20M211.5 764v17M212.5 769v20M213.5 758v26M214.5 759v24M215.5 770v17M216.5 770v12M217.5 760v30M218.5 771v18M219.5 764v21M220.5 771v18M221.5 771v15M222.5 764v29M223.5 767v19M224.5 767v15M225.5 770v15M226.5 766v15M227.5 765v23M228.5 764v30M229.5 765v23M230.5 771v13M231.5 764v27M232.5 773v19M233.5 773v18M234.5 773v16M235.5 774v15M236.5 768v28M237.5 768v22M238.5 773v18M239.5 769v17M240.5 769v20M241.5 769v25M242.5 771v27M243.5 770v28M244.5 767v25M245.5 751v35M246.5 752v37M247.5 764v30M248.5 766v28M249.5 752v43M250.5 753v38M251.5 768v23M252.5 761v32M253.5 755v33M254.5 768v23M255.5 769v18M256.5 764v29M257.5 769v23M258.5 769v23M259.5 769v31M260.5 769v18M261.5 759v36M262.5 754v32M263.5 769v17M264.5 758v35M265.5 756v34M266.5 769v32M267.5 768v19M268.5 757v40M269.5 770v25M270.5 755v46M271.5 761v26M272.5 759v30M273.5 766v20M274.5 765v32M275.5 761v24M276.5 770v15M277.5 766v21M278.5 769v15M279.5 762v25M280.5 770v15M281.5 772v12M282.5 769v14M283.5 764v20M284.5 768v19M285.5 768v16M286.5 761v21M287.5 762v28M288.5 762v20M289.5 769v18M290.5 766v16M291.5 765v22M292.5 766v14M293.5 768v19M294.5 768v13M295.5 763v19M296.5 771v11M297.5 772v15M298.5 772v12M299.5 773v10M300.5 771v13M301.5 773v10M302.5 772v10M303.5 772v11M304.5 771v16M305.5 763v19M306.5 769v11M307.5 767v15M308.5 769v12M309.5 768v13M310.5 770v14M311.5 766v20M312.5 771v16M313.5 770v19M314.5 772v11M315.5 773v17M316.5 774v9M317.5 768v21M318.5 773v11M319.5 772v13M320.5 771v13M321.5 765v21M322.5 766v22M323.5 770v14M324.5 772v14M325.5 770v11M326.5 765v16M327.5 766v21M328.5 772v9M329.5 769v13M330.5 772v9M331.5 766v16M332.5 766v16M333.5 772v11M334.5 770v10M335.5 771v12M336.5 771v9M337.5 771v8M338.5 772v13M339.5 766v16M340.5 770v10M341.5 769v14M342.5 767v12M343.5 769v16M344.5 767v12M345.5 772v9M346.5 772v8M347.5 772v8M348.5 771v14M349.5 773v9M350.5 772v13M351.5 773v8M352.5 771v13M353.5 772v7M354.5 769v11M355.5 772v10M356.5 771v10M357.5 772v6M358.5 768v13M359.5 768v11M360.5 772v9M361.5 770v10M362.5 772v5M363.5 769v8M364.5 770v8M365.5 773v6M366.5 770v9M367.5 772v9M368.5 774v5M369.5 772v10M370.5 775v5M371.5 775v7M372.5 775v6M373.5 772v10M374.5 772v12M375.5 772v8M376.5 774v10M377.5 775v8M378.5 774v7M379.5 775v6M380.5 774v9M381.5 775v5M382.5 774v6M383.5 773v8M384.5 776v4M385.5 774v6M386.5 775v6M387.5 775v5M388.5 776v6M389.5 774v6M390.5 776v6M391.5 773v9M392.5 774v5M393.5 773v6M394.5 772v9M395.5 774v6M396.5 775v5M397.5 774v5M398.5 772v8M399.5 773v9M400.5 774v3M401.5 776v4M402.5 774v6M403.5 776v4M404.5 776v4M405.5 776v4M406.5 779v5M407.5 776v7M408.5 778v3M409.5 777v5M410.5 781v2M411.5 780v3M412.5 778v4M413.5 779v3M414.5 778v4M415.5 777v5M416.5 776v4M417.5 777v3M418.5 774v6M419.5 773v5M420.5 775v3M421.5 776v2M422.5 774v3M423.5 772v3M424.5 772v4M425.5 774v2M426.5 771v5M427.5 772v2M428.5 771v2M429.5 772v3M430.5 771v4M431.5 772v3M432.5 772v3M433.5 773v4M434.5 773v4M435.5 773v5M436.5 775v3M437.5 775v2M438.5 776v3M439.5 776v3M440.5 776v4M441.5 777v3M442.5 776v3M443.5 778v2M444.5 776v3M445.5 777v2M446.5 776v2M447.5 774v4M448.5 774v3M449.5 774v2M450.5 773v2M451.5 773v2M452.5 773v2M453.5 772v3M454.5 772v3M455.5 771v2M456.5 771v2M457.5 771v2M458.5 771v2M459.5 771v2M460.5 772v2M461.5 772v2M462.5 772v3M463.5 773v2M464.5 773v4M465.5 776v2M466.5 777v2M467.5 777v3M468.5 777v3M469.5 779v2M470.5 779v4M471.5 780v4M472.5 780v2M473.5 781v3M474.5 781v3M475.5 781v3M476.5 780v4M477.5 779v2M478.5 778v2M479.5 779v2M480.5 778v2M481.5 777v2M482.5 775v3M483.5 775v2M484.5 774v3M485.5 773v2M486.5 774v2M487.5 774v2M488.5 773v2M489.5 774v2M490.5 774v3M491.5 776v2M492.5 777v3M493.5 777v4M494.5 779v2M495.5 779v2M496.5 780v2M497.5 780v2M498.5 779v3M499.5 779v3M500.5 778v4M501.5 777v2M502.5 777v2M503.5 776v2M504.5 775v2M505.5 774v3M506.5 773v2M507.5 773v2M508.5 771v3M509.5 771v2M510.5 769v3M511.5 769v2M512.5 768v2M513.5 768v3M514.5 769v3M515.5 771v2M516.5 771v2M517.5 771v3M518.5 773v3M519.5 774v2M520.5 774v2M521.5 775v3M522.5 776v3M523.5 778v2M524.5 778v3M525.5 778v4M526.5 780v2M527.5 779v3M528.5 780v2M529.5 780v2M530.5 781v2M531.5 781v2M532.5 780v3M533.5 780v2M534.5 780v3M535.5 781v2M536.5 780v2M537.5 780v2M538.5 780v2M539.5 780v2M540.5 780v2M541.5 780v3M542.5 780v3M543.5 780v3M544.5 780v3M545.5 780v2M546.5 780v2M547.5 779v3M548.5 779v2M549.5 779v2M550.5 779v3M551.5 779v2M552.5 778v3M553.5 778v2M554.5 778v2M555.5 778v2M556.5 778v2M557.5 777v2M558.5 776v3M559.5 775v2M560.5 774v2M561.5 774v2M562.5 772v3M563.5 772v2M564.5 771v2M565.5 771v2M566.5 771v2M567.5 771v2M568.5 771v2M569.5 772v2M570.5 772v2M571.5 772v2M572.5 772v2M573.5 773v4M574.5 776v2M575.5 776v2M576.5 776v2M577.5 776v4M578.5 779v2M579.5 780v2M580.5 780v2M581.5 780v2M582.5 780v3M583.5 781v2M584.5 781v2M585.5 780v2M586.5 780v2M587.5 779v3M588.5 779v2M589.5 778v2M590.5 776v3M591.5 775v3M592.5 774v2M593.5 773v2M594.5 773v2M595.5 772v2M596.5 772v2M597.5 772v3M598.5 772v3M599.5 774v2M600.5 775v2M601.5 775v3M602.5 777v2M603.5 777v3M604.5 779v3M605.5 781v2M606.5 781v3M607.5 782v3M608.5 782v2M609.5 783v2M610.5 782v2M611.5 782v2M612.5 781v2M613.5 780v2M614.5 780v2M615.5 777v4M616.5 776v2M617.5 776v2M618.5 775v2M619.5 774v2M620.5 772v3M621.5 772v2M622.5 771v2M623.5 771v2M624.5 771v2M625.5 771v3M626.5 772v2M627.5 772v2M628.5 773v2M629.5 773v3M630.5 774v2M631.5 775v2M632.5 776v2M633.5 777v2M634.5 778v2M635.5 779v2M636.5 779v2M637.5 780v2M638.5 780v2M639.5 780v2M640.5 780v2M641.5 779v2M642.5 779v2M643.5 779v2M644.5 779v2M645.5 778v2" stroke="#1c0048" stroke-width="1" fill="none"/><rect x="2.5" y="744.5" width="645" height="59" fill="none" stroke="#000" stroke-width="1"/><path d="M9.5 745v2M17.5 745v2M25.5 745v2M33.5 745v2M41.5 745v6M49.5 745v2M57.5 745v2M65.5 745v2M73.5 745v2M81.5 745v4M89.5 745v2M97.5 745v2M105.5 745v2M113.5 745v2M121.5 745v6M129.5 745v2M137.5 745v2M145.5 745v2M153.5 745v2M161.5 745v4M169.5 745v2M177.5 745v2M185.5 745v2M193.5 745v2M201.5 745v6M209.5 745v2M217.5 745v2M225.5 745v2M233.5 745v2M241.5 745v4M249.5 745v2M257.5 745v2M265.5 745v2M274.5 745v2M282.5 745v6M290.5 745v2M298.5 745v2M306.5 745v2M314.5 745v2M322.5 745v4M330.5 745v2M338.5 745v2M346.5 745v2M354.5 745v2M362.5 745v6M370.5 745v2M378.5 745v2M386.5 745v2M394.5 745v2M402.5 745v4M410.5 745v2M418.5 745v2M426.5 745v2M434.5 745v2M442.5 745v8M450.5 745v2M458.5 745v2M466.5 745v2M474.5 745v2M482.5 745v4M490.5 745v2M498.5 745v2M506.5 745v2M514.5 745v2M522.5 745v6M530.5 745v2M538.5 745v2M546.5 745v2M554.5 745v2M562.5 745v4M570.5 745v2M578.5 745v2M586.5 745v2M594.5 745v2M602.5 745v6M610.5 745v2M618.5 745v2M626.5 745v2M634.5 745v2M642.5 745v4" stroke="#000" stroke-width="1"/><rect x="131" y="744" width="33" height="12" fill="#ff0000"/><text class="l" x="133" y="754">* Pd2</text><text class="t" x="445" y="757">13:36</text><text class="t" x="12" y="802">UW GNW BHZ -- 76.2km</text></g>
<g><rect x="161" y="805" width="3" height="58" fill="#bfe6bf"/><rect x="239" y="805" width="4" height="58" fill="#bfe6bf"/><rect x="164" y="805" width="1" height="58" fill="#ff0000"/><path d="M83.5 835v2M84.5 834v2M85.5 835v2M86.5 834v2M87.5 834v2M88.5 834v2M89.5 835v2M90.5 835v2M91.5 835v2M92.5 834v2M93.5 835v2M94.5 835v2M95.5 835v2M96.5 835v2M97.5 834v2M98.5 834v2M99.5 834v3M100.5 835v2M101.5 835v2M102.5 835v2M103.5 835v2M104.5 834v2M105.5 834v2M106.5 835v2M107.5 835v2M108.5 835v2M109.5 835v2M110.5 835v2M111.5 834v2M112.5 835v2M113.5 835v2M114.5 834v2M115.5 834v2M116.5 835v2M117.5 834v2M118.5 835v2M119.5 834v2M120.5 835v2M121.5 835v2M122.5 834v2M123.5 834v2M124.5 834v2M125.5 835v2M126.5 834v3M127.5 834v3M128.5 835v2M129.5 834v3M130.5 834v2M131.5 835v2M132.5 835v2M133.5 834v2M134.5 835v2M135.5 834v3M136.5 834v2M137.5 834v3M138.5 835v2M139.5 834v2M140.5 834v3M141.5 834v2M142.5 835v2M143.5 835v2M144.5 835v2M145.5 835v2M146.5 834v2M147.5 835v2M148.5 835v2M149.5 835v2M150.5 835v2M151.5 834v3M152.5 835v2M153.5 835v2M154.5 835v2M155.5 835v2M156.5 835v2M157.5 835v2M158.5 835v2M159.5 834v2M160.5 835v2M161.5 834v2M162.5 835v2M163.5 835v2M164.5 835v2M165.5 820v31M166.5 820v30M167.5 818v32M168.5 806v45M169.5 821v39M170.5 822v35M171.5 811v38M172.5 817v31M173.5 824v29M174.5 830v20M175.5 829v16M176.5 825v23M177.5 825v15M178.5 824v26M179.5 821v19M180.5 829v22M181.5 826v16M182.5 829v16M183.5 828v23M184.5 829v13M185.5 820v24M186.5 827v12M187.5 828v12M188.5 826v21M189.5 817v24M190.5 815v26M191.5 823v19M192.5 828v20M193.5 824v17M194.5 831v8M195.5 831v17M196.5 831v11M197.5 831v8M198.5 832v12M199.5 831v16M200.5 831v17M201.5 826v19M202.5 826v14M203.5 824v16M204.5 832v14M205.5 828v14M206.5 824v24M207.5 825v14M208.5 828v10M209.5 831v9M210.5 831v10M211.5 832v7M212.5 824v16M213.5 824v16M214.5 831v8M215.5 831v10M216.5 827v17M217.5 824v24M218.5 828v14M219.5 826v15M220.5 831v9M221.5 828v12M222.5 829v18M223.5 829v11M224.5 833v8M225.5 827v16M226.5 833v7M227.5 826v14M228.5 831v9M229.5 833v7M230.5 833v7M231.5 827v14M232.5 828v16M233.5 834v9M234.5 827v13M235.5 832v12M236.5 830v10M237.5 833v12M238.5 829v12M239.5 822v27M240.5 828v25M241.5 819v29M242.5 821v27M243.5 824v29M244.5 824v32M245.5 823v36M246.5 822v29M247.5 823v37M248.5 810v38M249.5 824v24M250.5 810v45M251.5 822v27M252.5 822v26M253.5 820v29M254.5 823v34M255.5 819v33M256.5 813v48M257.5 811v37M258.5 813v39M259.5 813v36M260.5 811v36M261.5 824v32M262.5 826v23M263.5 819v27M264.5 826v22M265.5 824v28M266.5 828v17M267.5 827v23M268.5 824v29M269.5 829v18M270.5 830v15M271.5 831v9M272.5 821v19M273.5 827v13M274.5 822v18M275.5 828v11M276.5 830v11M277.5 827v20M278.5 819v21M279.5 829v16M280.5 824v17M281.5 828v19M282.5 824v15M283.5 829v15M284.5 830v20M285.5 828v11M286.5 830v20M287.5 825v18M288.5 822v17M289.5 831v8M290.5 826v16M291.5 831v10M292.5 820v22M293.5 829v10M294.5 831v14M295.5 829v11M296.5 830v12M297.5 825v16M298.5 832v9M299.5 822v17M300.5 831v12M301.5 832v11M302.5 825v19M303.5 822v20M304.5 832v8M305.5 830v14M306.5 828v12M307.5 827v18M308.5 830v10M309.5 833v7M310.5 824v17M311.5 833v7M312.5 827v20M313.5 833v9M314.5 832v12M315.5 831v13M316.5 833v14M317.5 833v10M318.5 830v13M319.5 832v12M320.5 833v6M321.5 828v10M322.5 831v7M323.5 826v12M324.5 833v5M325.5 827v11M326.5 833v5M327.5 833v5M328.5 830v8M329.5 827v11M330.5 829v10M331.5 828v15M332.5 829v8M333.5 832v11M334.5 833v5M335.5 830v7M336.5 833v4M337.5 832v5M338.5 833v5M339.5 831v7M340.5 829v11M341.5 832v9M342.5 829v9M343.5 834v7M344.5 833v6M345.5 829v10M346.5 833v5M347.5 834v6M348.5 833v6M349.5 833v7M350.5 832v6M351.5 834v9M352.5 835v4M353.5 834v5M354.5 834v7M355.5 834v4M356.5 835v7M357.5 834v5M358.5 835v3M359.5 835v4M360.5 831v9M361.5 834v5M362.5 835v6M363.5 834v7M364.5 835v5M365.5 833v5M366.5 835v3M367.5 831v8M368.5 833v6M369.5 834v4M370.5 834v3M371.5 833v4M372.5 832v7M373.5 832v5M374.5 832v4M375.5 833v5M376.5 833v3M377.5 831v6M378.5 831v4M379.5 832v3M380.5 831v6M381.5 831v4M382.5 831v5M383.5 831v4M384.5 830v6M385.5 832v3M386.5 832v3M387.5 831v5M388.5 832v3M389.5 832v3M390.5 832v3M391.5 832v3M392.5 832v5M393.5 833v2M394.5 831v4M395.5 832v3M396.5 832v3M397.5 833v2M398.5 833v4M399.5 832v3M400.5 833v2M401.5 833v2M402.5 833v2M403.5 832v3M404.5 833v3M405.5 833v3M406.5 831v4M407.5 832v4M408.5 833v2M409.5 831v4M410.5 832v5M411.5 833v3M412.5 832v5M413.5 833v4M414.5 832v4M415.5 833v3M416.5 834v4M417.5 834v3M418.5 833v4M419.5 834v3M420.5 834v3M421.5 835v2M422.5 834v3M423.5 834v4M424.5 835v4M425.5 835v4M426.5 836v2M427.5 835v3M428.5 835v4M429.5 836v2M430.5 835v4M431.5 836v3M432.5 836v3M433.5 837v2M434.5 835v5M435.5 836v3M436.5 836v3M437.5 836v3M438.5 836v3M439.5 836v2M440.5 836v2M441.5 836v2M442.5 836v2M443.5 835v2M444.5 836v2M445.5 835v3M446.5 835v3M447.5 835v2M448.5 835v2M449.5 834v3M450.5 835v2M451.5 834v3M452.5 834v2M453.5 834v2M454.5 833v3M455.5 833v3M456.5 833v3M457.5 834v2M458.5 834v3M459.5 833v3M460.5 833v4M461.5 834v2M462.5 833v4M463.5 834v3M464.5 834v2M465.5 834v2M466.5 834v2M467.5 834v2M468.5 834v2M469.5 833v4M470.5 833v2M471.5 833v3M472.5 833v3M473.5 833v3M474.5 834v2M475.5 834v2M476.5 833v2M477.5 833v2M478.5 834v2M479.5 834v2M480.5 833v3M481.5 833v2M482.5 833v2M483.5 833v3M484.5 833v3M485.5 834v2M486.5 833v2M487.5 834v2M488.5 834v2M489.5 834v2M490.5 833v3M491.5 834v2M492.5 834v3M493.5 834v3M494.5 834v2M495.5 835v2M496.5 835v2M497.5 835v2M498.5 835v2M499.5 835v2M500.5 835v2M501.5 836v2M502.5 835v2M503.5 836v2M504.5 836v2M505.5 836v2M506.5 836v2M507.5 836v2M508.5 836v3M509.5 836v2M510.5 836v2M511.5 836v2M512.5 836v2M513.5 836v2M514.5 836v2M515.5 836v2M516.5 836v2M517.5 836v2M518.5 836v2M519.5 836v2M520.5 835v3M521.5 836v2M522.5 835v3M523.5 835v2M524.5 834v4M525.5 836v2M526.5 835v2M527.5 835v3M528.5 835v2M529.5 835v3M530.5 835v2M531.5 835v2M532.5 835v2M533.5 835v3M534.5 835v2M535.5 835v2M536.5 835v3M537.5 835v2M538.5 834v4M539.5 835v2M540.5 835v2M541.5 834v2M542.5 835v2M543.5 834v2M544.5 834v2M545.5 834v2M546.5 833v3M547.5 834v2M548.5 834v2M549.5 833v3M550.5 833v2M551.5 833v2M552.5 833v2M553.5 833v2M554.5 833v3M555.5 833v3M556.5 832v4M557.5 832v3M558.5 833v2M559.5 832v3M560.5 832v4M561.5 832v3M562.5 833v2M563.5 833v3M564.5 833v2M565.5 833v3M566.5 833v3M567.5 833v3M568.5 833v2M569.5 834v2M570.5 834v2M571.5 833v3M572.5 834v2M573.5 834v3M574.5 834v2M575.5 834v2M576.5 834v3M577.5 835v2M578.5 835v2M579.5 835v2M580.5 835v2M581.5 835v2M582.5 835v2M583.5 834v4M584.5 835v2M585.5 834v3M586.5 834v3M587.5 834v3M588.5 834v3M589.5 835v3M590.5 835v2M591.5 835v2M592.5 835v2M593.5 835v2M594.5 835v2M595.5 835v3M596.5 834v4M597.5 834v3M598.5 835v2M599.5 835v3M600.5 835v3M601.5 835v2M602.5 835v2M603.5 835v2M604.5 835v2M605.5 835v2M606.5 835v2M607.5 835v3M608.5 835v2M609.5 835v2M610.5 835v3M611.5 835v2M612.5 835v2M613.5 835v2M614.5 835v2M615.5 835v2M616.5 835v2M617.5 834v3M618.5 834v2M619.5 834v2M620.5 834v2M621.5 833v3M622.5 834v2M623.5 833v3M624.5 833v3M625.5 834v2M626.5 832v3M627.5 833v2M628.5 832v4M629.5 833v2M630.5 832v3M631.5 833v2M632.5 833v2M633.5 833v2M634.5 833v2M635.5 833v2M636.5 832v3M637.5 833v2M638.5 833v3M639.5 833v3M640.5 833v2M641.5 833v2M642.5 833v2M643.5 833v4M644.5 834v3" stroke="#1c0048" stroke-width="1" fill="none"/><rect x="2.5" y="804.5" width="645" height="59" fill="none" stroke="#000" stroke-width="1"/><path d="M9.5 805v2M17.5 805v2M25.5 805v2M33.5 805v2M41.5 805v6M49.5 805v2M57.5 805v2M65.5 805v2M73.5 805v2M81.5 805v4M89.5 805v2M97.5 805v2M105.5 805v2M113.5 805v2M121.5 805v6M129.5 805v2M137.5 805v2M145.5 805v2M153.5 805v2M161.5 805v4M169.5 805v2M177.5 805v2M185.5 805v2M193.5 805v2M201.5 805v6M209.5 805v2M217.5 805v2M225.5 805v2M233.5 805v2M241.5 805v4M249.5 805v2M257.5 805v2M265.5 805v2M274.5 805v2M282.5 805v6M290.5 805v2M298.5 805v2M306.5 805v2M314.5 805v2M322.5 805v4M330.5 805v2M338.5 805v2M346.5 805v2M354.5 805v2M362.5 805v6M370.5 805v2M378.5 805v2M386.5 805v2M394.5 805v2M402.5 805v4M410.5 805v2M418.5 805v2M426.5 805v2M434.5 805v2M442.5 805v8M450.5 805v2M458.5 805v2M466.5 805v2M474.5 805v2M482.5 805v4M490.5 805v2M498.5 805v2M506.5 805v2M514.5 805v2M522.5 805v6M530.5 805v2M538.5 805v2M546.5 805v2M554.5 805v2M562.5 805v4M570.5 805v2M578.5 805v2M586.5 805v2M594.5 805v2M602.5 805v6M610.5 805v2M618.5 805v2M626.5 805v2M634.5 805v2M642.5 805v4" stroke="#000" stroke-width="1"/><rect x="132" y="804" width="33" height="12" fill="#ff0000"/><text class="l" x="134" y="814">* Pd0</text><polyline points="100.5,804.5 105.5,810.5 115.5,818.5 130.5,824.5 145.5,828.5" stroke="#000000" stroke-width="1" fill="none" shape-rendering="crispEdges"/><polyline points="145.5,828.5 164.5,831.5 200.5,833.2 240.5,834.5 321.3,835.1" stroke="#ff0000" stroke-width="1" fill="none" shape-rendering="crispEdges"/><path d="M311 827h3v15h-3zM312 826h1v1h-1zM312 842h1v1h-1z" fill="#ff0000" shape-rendering="crispEdges"/><path d="M310 819h5v1h-5zM312 817h1v5h-1z" fill="#ff0000" shape-rendering="crispEdges"/><text class="t" x="445" y="817">13:36</text><text class="t" x="12" y="862">CC OBSR BHZ -- 76.5km</text></g>
<g><rect x="162" y="865" width="4" height="58" fill="#bfe6bf"/><rect x="240" y="865" width="4" height="58" fill="#bfe6bf"/><rect x="166" y="865" width="1" height="58" fill="#ff0000"/><path d="M84.5 887v2M85.5 887v2M86.5 887v2M87.5 887v2M88.5 887v2M89.5 887v2M90.5 887v2M91.5 887v2M92.5 887v2M93.5 887v2M94.5 887v2M95.5 887v2M96.5 887v2M97.5 887v2M98.5 887v2M99.5 887v2M100.5 887v2M101.5 887v2M102.5 887v2M103.5 887v2M104.5 887v2M105.5 887v2M106.5 887v2M107.5 887v2M108.5 887v2M109.5 887v2M110.5 887v2M111.5 887v2M112.5 887v2M113.5 887v2M114.5 887v2M115.5 887v2M116.5 887v2M117.5 887v2M118.5 887v2M119.5 887v2M120.5 887v2M121.5 887v2M122.5 887v2M123.5 887v2M124.5 887v2M125.5 887v2M126.5 887v2M127.5 887v2M128.5 887v2M129.5 887v2M130.5 887v2M131.5 887v2M132.5 887v2M133.5 887v2M134.5 887v2M135.5 887v2M136.5 887v2M137.5 887v2M138.5 887v2M139.5 887v2M140.5 887v2M141.5 887v2M142.5 887v2M143.5 887v2M144.5 887v2M145.5 887v2M146.5 887v2M147.5 887v2M148.5 887v2M149.5 887v2M150.5 887v2M151.5 887v2M152.5 887v2M153.5 887v2M154.5 887v2M155.5 887v2M156.5 887v2M157.5 887v2M158.5 887v2M159.5 887v2M160.5 887v2M161.5 887v2M162.5 887v2M163.5 887v2M164.5 887v2M165.5 887v2M166.5 887v2M167.5 879v25M168.5 879v35M169.5 873v34M170.5 881v32M171.5 881v17M172.5 881v21M173.5 882v15M174.5 884v12M175.5 879v23M176.5 883v10M177.5 884v13M178.5 883v12M179.5 879v14M180.5 885v5M181.5 884v8M182.5 883v11M183.5 885v6M184.5 885v5M185.5 880v10M186.5 885v5M187.5 883v8M188.5 885v9M189.5 882v8M190.5 880v11M191.5 884v9M192.5 884v11M193.5 884v11M194.5 885v6M195.5 885v6M196.5 883v8M197.5 885v6M198.5 884v7M199.5 885v10M200.5 885v8M201.5 884v8M202.5 885v11M203.5 883v7M204.5 884v11M205.5 885v5M206.5 883v12M207.5 883v9M208.5 882v11M209.5 885v11M210.5 882v8M211.5 882v14M212.5 882v8M213.5 885v10M214.5 884v11M215.5 885v10M216.5 881v13M217.5 882v8M218.5 885v10M219.5 883v9M220.5 885v8M221.5 882v8M222.5 882v8M223.5 884v6M224.5 881v10M225.5 882v8M226.5 885v9M227.5 881v12M228.5 885v7M229.5 883v8M230.5 885v6M231.5 885v7M232.5 883v8M233.5 885v6M234.5 884v7M235.5 885v5M236.5 885v6M237.5 885v6M238.5 884v6M239.5 882v20M240.5 879v26M241.5 869v45M242.5 877v26M243.5 872v32M244.5 868v36M245.5 869v43M246.5 870v39M247.5 876v27M248.5 877v36M249.5 871v47M250.5 877v40M251.5 879v37M252.5 882v24M253.5 878v26M254.5 881v13M255.5 873v21M256.5 874v20M257.5 875v30M258.5 883v11M259.5 881v15M260.5 876v18M261.5 882v20M262.5 883v13M263.5 879v13M264.5 875v26M265.5 883v11M266.5 883v11M267.5 880v22M268.5 883v16M269.5 881v12M270.5 883v10M271.5 879v18M272.5 882v12M273.5 884v8M274.5 880v21M275.5 881v11M276.5 883v10M277.5 883v17M278.5 883v16M279.5 884v9M280.5 880v11M281.5 880v19M282.5 879v13M283.5 883v16M284.5 882v13M285.5 879v12M286.5 882v9M287.5 883v8M288.5 883v8M289.5 881v11M290.5 884v7M291.5 883v8M292.5 878v20M293.5 879v12M294.5 883v8M295.5 883v9M296.5 884v8M297.5 882v11M298.5 883v9M299.5 884v8M300.5 879v16M301.5 884v8M302.5 883v11M303.5 880v13M304.5 884v6M305.5 883v8M306.5 885v11M307.5 884v10M308.5 882v8M309.5 885v6M310.5 885v7M311.5 884v6M312.5 881v14M313.5 881v11M314.5 882v9M315.5 885v8M316.5 885v5M317.5 885v5M318.5 882v9M319.5 885v8M320.5 883v7M321.5 885v7M322.5 881v9M323.5 883v8M324.5 885v5M325.5 884v9M326.5 883v11M327.5 885v5M328.5 885v8M329.5 885v8M330.5 885v5M331.5 885v7M332.5 883v7M333.5 885v8M334.5 884v7M335.5 884v7M336.5 883v8M337.5 883v11M338.5 885v6M339.5 885v5M340.5 885v6M341.5 885v9M342.5 885v6M343.5 885v6M344.5 883v9M345.5 883v9M346.5 881v9M347.5 882v10M348.5 885v7M349.5 885v5M350.5 883v7M351.5 885v7M352.5 885v8M353.5 885v8M354.5 885v8M355.5 885v7M356.5 886v3M357.5 884v6M358.5 885v4M359.5 886v3M360.5 886v3M361.5 886v4M362.5 885v5M363.5 886v4M364.5 884v9M365.5 886v4M366.5 883v8M367.5 885v6M368.5 883v7M369.5 883v9M370.5 883v7M371.5 883v9M372.5 884v8M373.5 886v4M374.5 884v6M375.5 884v6M376.5 883v7M377.5 884v6M378.5 886v4M379.5 885v6M380.5 884v5M381.5 884v6M382.5 886v4M383.5 885v6M384.5 885v4M385.5 885v5M386.5 885v5M387.5 886v5M388.5 886v6M389.5 886v3M390.5 886v3M391.5 886v4M392.5 886v3M393.5 884v5M394.5 884v7M395.5 884v5M396.5 886v4M397.5 884v5M398.5 886v4M399.5 886v3M400.5 885v6M401.5 886v3M402.5 886v3M403.5 885v4M404.5 886v5M405.5 886v3M406.5 884v7M407.5 885v4M408.5 885v4M409.5 884v6M410.5 884v7M411.5 886v3M412.5 886v3M413.5 885v5M414.5 884v6M415.5 885v5M416.5 886v3M417.5 886v5M418.5 885v4M419.5 886v3M420.5 885v5M421.5 885v4M422.5 886v5M423.5 886v3M424.5 886v3M425.5 886v3M426.5 886v5M427.5 886v4M428.5 885v4M429.5 885v5M430.5 886v5M431.5 886v3M432.5 886v3M433.5 886v3M434.5 886v4M435.5 885v4M436.5 886v3M437.5 886v3M438.5 886v3M439.5 886v3M440.5 885v5M441.5 886v3M442.5 885v4M443.5 885v4M444.5 886v3M445.5 886v3M446.5 886v4M447.5 886v3M448.5 886v4M449.5 886v3M450.5 886v3M451.5 886v3M452.5 886v3M453.5 886v3M454.5 886v3M455.5 885v4M456.5 885v4M457.5 885v4M458.5 886v4M459.5 886v3M460.5 886v3M461.5 886v3M462.5 886v4M463.5 886v4M464.5 886v4M465.5 886v3M466.5 886v3M467.5 886v3M468.5 886v3M469.5 885v4M470.5 886v3M471.5 886v3M472.5 887v2M473.5 886v2M474.5 886v3M475.5 886v3M476.5 886v4M477.5 887v2M478.5 886v2M479.5 886v3M480.5 887v2M481.5 886v3M482.5 886v2M483.5 886v3M484.5 887v2M485.5 886v3M486.5 886v3M487.5 887v2M488.5 886v3M489.5 887v2M490.5 887v2M491.5 887v2M492.5 887v2M493.5 887v2M494.5 887v2M495.5 887v2M496.5 887v2M497.5 887v2M498.5 887v2M499.5 887v2M500.5 887v2M501.5 887v2M502.5 887v2M503.5 887v2M504.5 887v2M505.5 887v2M506.5 887v2M507.5 887v2M508.5 887v2M509.5 887v2M510.5 887v2M511.5 887v2M512.5 887v2M513.5 887v2M514.5 887v2M515.5 887v2M516.5 887v2M517.5 887v2M518.5 887v2M519.5 887v2M520.5 887v2M521.5 887v2M522.5 887v2M523.5 887v2M524.5 887v2M525.5 887v2M526.5 887v2M527.5 887v2M528.5 887v2M529.5 887v2M530.5 887v2M531.5 887v2M532.5 887v2M533.5 887v2M534.5 887v2M535.5 887v2M536.5 887v2M537.5 887v2M538.5 887v2M539.5 887v2M540.5 887v2M541.5 887v2M542.5 887v2M543.5 887v2M544.5 887v2M545.5 887v2M546.5 887v2M547.5 887v2M548.5 887v2M549.5 887v2M550.5 887v2M551.5 887v2M552.5 887v2M553.5 887v2M554.5 887v2M555.5 887v2M556.5 887v2M557.5 887v2M558.5 887v2M559.5 887v2M560.5 887v2M561.5 887v2M562.5 887v2M563.5 887v2M564.5 887v2M565.5 887v2M566.5 887v2M567.5 887v2M568.5 887v2M569.5 887v2M570.5 887v2M571.5 887v2M572.5 887v2M573.5 887v2M574.5 887v2M575.5 887v2M576.5 887v2M577.5 887v2M578.5 887v2M579.5 887v2M580.5 887v2M581.5 887v2M582.5 887v2M583.5 887v2M584.5 887v2M585.5 887v2M586.5 887v2M587.5 887v2M588.5 887v2M589.5 887v2M590.5 887v2M591.5 887v2M592.5 887v2M593.5 887v2M594.5 887v2M595.5 887v2M596.5 887v2M597.5 887v2M598.5 887v2M599.5 887v2M600.5 887v2M601.5 887v2M602.5 887v2M603.5 887v2M604.5 887v2M605.5 887v2M606.5 887v2M607.5 887v2M608.5 887v2M609.5 887v2M610.5 887v2M611.5 887v2M612.5 887v2M613.5 887v2M614.5 887v2M615.5 887v2M616.5 887v2M617.5 887v2M618.5 887v2M619.5 887v2M620.5 887v2M621.5 887v2M622.5 887v2M623.5 887v2M624.5 887v2M625.5 887v2M626.5 887v2M627.5 887v2M628.5 887v2M629.5 887v2M630.5 887v2M631.5 887v2M632.5 887v2M633.5 887v2M634.5 887v2M635.5 887v2M636.5 887v2M637.5 887v2M638.5 887v2M639.5 887v2M640.5 887v2M641.5 887v2M642.5 887v2M643.5 887v2M644.5 887v2M645.5 887v2M646.5 887v2M647.5 887v2" stroke="#0000ff" stroke-width="1" fill="none"/><rect x="2.5" y="864.5" width="645" height="59" fill="none" stroke="#000" stroke-width="1"/><path d="M9.5 865v2M17.5 865v2M25.5 865v2M33.5 865v2M41.5 865v6M49.5 865v2M57.5 865v2M65.5 865v2M73.5 865v2M81.5 865v4M89.5 865v2M97.5 865v2M105.5 865v2M113.5 865v2M121.5 865v6M129.5 865v2M137.5 865v2M145.5 865v2M153.5 865v2M161.5 865v4M169.5 865v2M177.5 865v2M185.5 865v2M193.5 865v2M201.5 865v6M209.5 865v2M217.5 865v2M225.5 865v2M233.5 865v2M241.5 865v4M249.5 865v2M257.5 865v2M265.5 865v2M274.5 865v2M282.5 865v6M290.5 865v2M298.5 865v2M306.5 865v2M314.5 865v2M322.5 865v4M330.5 865v2M338.5 865v2M346.5 865v2M354.5 865v2M362.5 865v6M370.5 865v2M378.5 865v2M386.5 865v2M394.5 865v2M402.5 865v4M410.5 865v2M418.5 865v2M426.5 865v2M434.5 865v2M442.5 865v8M450.5 865v2M458.5 865v2M466.5 865v2M474.5 865v2M482.5 865v4M490.5 865v2M498.5 865v2M506.5 865v2M514.5 865v2M522.5 865v6M530.5 865v2M538.5 865v2M546.5 865v2M554.5 865v2M562.5 865v4M570.5 865v2M578.5 865v2M586.5 865v2M594.5 865v2M602.5 865v6M610.5 865v2M618.5 865v2M626.5 865v2M634.5 865v2M642.5 865v4" stroke="#000" stroke-width="1"/><rect x="134" y="864" width="33" height="12" fill="#ff0000"/><text class="l" x="136" y="874">* Pc2</text><polyline points="102.5,864.5 108.5,871.5 120.5,877.5 140.5,881.5 162.5,883.5" stroke="#000000" stroke-width="1" fill="none" shape-rendering="crispEdges"/><polyline points="162.5,883.5 166.5,884.5 172.5,886.0 205.5,887.1 376.5,887.5" stroke="#ff0000" stroke-width="1" fill="none" shape-rendering="crispEdges"/><path d="M375 880h3v15h-3zM376 879h1v1h-1zM376 895h1v1h-1z" fill="#ff0000" shape-rendering="crispEdges"/><path d="M373 873h3v1h-3z" fill="#ff0000" shape-rendering="crispEdges"/><text class="t" x="445" y="877">13:36</text><text class="t" x="12" y="922">UW GPW EHZ -- 77.3km</text></g>
</svg></body></html>
